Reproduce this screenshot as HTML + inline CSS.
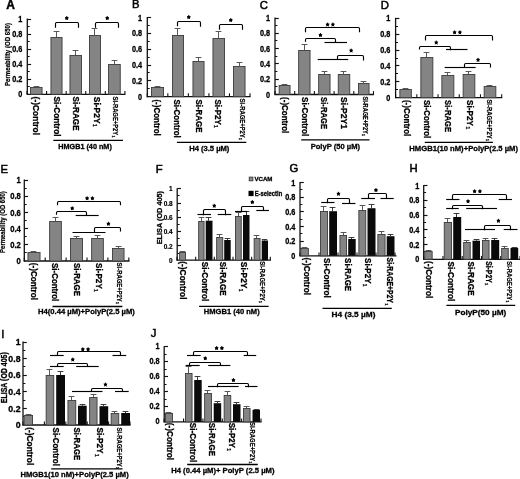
<!DOCTYPE html>
<html><head><meta charset="utf-8"><title>Figure</title>
<style>html,body{margin:0;padding:0;background:#fff;}body{width:520px;height:479px;overflow:hidden;}svg{display:block;filter:blur(0.35px);}text{font-family:"Liberation Sans",sans-serif;}</style></head><body>
<svg width="520" height="479" viewBox="0 0 520 479">
<rect width="520" height="479" fill="#fff"/>
<g>
<line x1="27.3" y1="18.5" x2="27.3" y2="94.8" stroke="#111" stroke-width="1.3" stroke-linecap="butt"/>
<line x1="26.8" y1="94.3" x2="125.4" y2="94.3" stroke="#111" stroke-width="1.3" stroke-linecap="butt"/>
<line x1="27.3" y1="86.5" x2="29.7" y2="86.5" stroke="#111" stroke-width="1" stroke-linecap="butt"/>
<line x1="27.3" y1="79.5" x2="31.1" y2="79.5" stroke="#111" stroke-width="1.15" stroke-linecap="butt"/>
<line x1="27.3" y1="71.5" x2="29.7" y2="71.5" stroke="#111" stroke-width="1" stroke-linecap="butt"/>
<line x1="27.3" y1="64.5" x2="31.1" y2="64.5" stroke="#111" stroke-width="1.15" stroke-linecap="butt"/>
<line x1="27.3" y1="56.5" x2="29.7" y2="56.5" stroke="#111" stroke-width="1" stroke-linecap="butt"/>
<line x1="27.3" y1="49.5" x2="31.1" y2="49.5" stroke="#111" stroke-width="1.15" stroke-linecap="butt"/>
<line x1="27.3" y1="41.5" x2="29.7" y2="41.5" stroke="#111" stroke-width="1" stroke-linecap="butt"/>
<line x1="27.3" y1="34.5" x2="31.1" y2="34.5" stroke="#111" stroke-width="1.15" stroke-linecap="butt"/>
<line x1="27.3" y1="26.5" x2="29.7" y2="26.5" stroke="#111" stroke-width="1" stroke-linecap="butt"/>
<line x1="27.3" y1="19.5" x2="31.1" y2="19.5" stroke="#111" stroke-width="1.15" stroke-linecap="butt"/>
<line x1="27" y1="94.3" x2="27" y2="90.9" stroke="#111" stroke-width="1.1" stroke-linecap="butt"/>
<line x1="46.58" y1="94.3" x2="46.58" y2="90.9" stroke="#111" stroke-width="1.1" stroke-linecap="butt"/>
<line x1="66.16" y1="94.3" x2="66.16" y2="90.9" stroke="#111" stroke-width="1.1" stroke-linecap="butt"/>
<line x1="85.74" y1="94.3" x2="85.74" y2="90.9" stroke="#111" stroke-width="1.1" stroke-linecap="butt"/>
<line x1="105.32" y1="94.3" x2="105.32" y2="90.9" stroke="#111" stroke-width="1.1" stroke-linecap="butt"/>
<line x1="124.9" y1="94.3" x2="124.9" y2="90.9" stroke="#111" stroke-width="1.1" stroke-linecap="butt"/>
<text font-size="8.4" font-weight="700" stroke="#000" stroke-width="0.3" text-anchor="end" textLength="4.06" lengthAdjust="spacingAndGlyphs" x="22.3" y="97.32" fill="#000">0</text>
<text font-size="8.4" font-weight="700" stroke="#000" stroke-width="0.3" text-anchor="end" textLength="10.16" lengthAdjust="spacingAndGlyphs" x="22.3" y="82.26" fill="#000">0.2</text>
<text font-size="8.4" font-weight="700" stroke="#000" stroke-width="0.3" text-anchor="end" textLength="10.16" lengthAdjust="spacingAndGlyphs" x="22.3" y="67.2" fill="#000">0.4</text>
<text font-size="8.4" font-weight="700" stroke="#000" stroke-width="0.3" text-anchor="end" textLength="10.16" lengthAdjust="spacingAndGlyphs" x="22.3" y="52.14" fill="#000">0.6</text>
<text font-size="8.4" font-weight="700" stroke="#000" stroke-width="0.3" text-anchor="end" textLength="10.16" lengthAdjust="spacingAndGlyphs" x="22.3" y="37.08" fill="#000">0.8</text>
<text font-size="8.4" font-weight="700" stroke="#000" stroke-width="0.3" text-anchor="end" textLength="4.06" lengthAdjust="spacingAndGlyphs" x="22.3" y="22.02" fill="#000">1</text>
<line x1="36.5" y1="86.5" x2="36.5" y2="87" stroke="#505050" stroke-width="0.95" stroke-linecap="butt"/>
<line x1="33.6" y1="86.5" x2="39.4" y2="86.5" stroke="#505050" stroke-width="0.95" stroke-linecap="butt"/>
<rect x="30.45" y="87.5" width="11.6" height="6.8" fill="#848484" stroke="#3c3c3c" stroke-width="0.9"/>
<line x1="56.5" y1="31.5" x2="56.5" y2="37.5" stroke="#505050" stroke-width="0.95" stroke-linecap="butt"/>
<line x1="53.6" y1="31.5" x2="59.4" y2="31.5" stroke="#505050" stroke-width="0.95" stroke-linecap="butt"/>
<rect x="50.95" y="37.5" width="11.1" height="56.8" fill="#848484" stroke="#3c3c3c" stroke-width="0.9"/>
<line x1="75.5" y1="50.5" x2="75.5" y2="55.5" stroke="#505050" stroke-width="0.95" stroke-linecap="butt"/>
<line x1="72.6" y1="50.5" x2="78.4" y2="50.5" stroke="#505050" stroke-width="0.95" stroke-linecap="butt"/>
<rect x="69.95" y="55.5" width="11.6" height="38.8" fill="#848484" stroke="#3c3c3c" stroke-width="0.9"/>
<line x1="94.5" y1="28.5" x2="94.5" y2="35" stroke="#505050" stroke-width="0.95" stroke-linecap="butt"/>
<line x1="91.6" y1="28.5" x2="97.4" y2="28.5" stroke="#505050" stroke-width="0.95" stroke-linecap="butt"/>
<rect x="89.45" y="35.5" width="11.1" height="58.8" fill="#848484" stroke="#3c3c3c" stroke-width="0.9"/>
<line x1="114.5" y1="60.5" x2="114.5" y2="64.5" stroke="#505050" stroke-width="0.95" stroke-linecap="butt"/>
<line x1="111.6" y1="60.5" x2="117.4" y2="60.5" stroke="#505050" stroke-width="0.95" stroke-linecap="butt"/>
<rect x="108.55" y="64.5" width="11.7" height="29.8" fill="#848484" stroke="#3c3c3c" stroke-width="0.9"/>
<path d="M55.5 27.7 V23.7 Q55.5 22.5 56.7 22.5 H77.3 Q78.5 22.5 78.5 23.7 V27.7" fill="none" stroke="#000" stroke-width="1.15"/>
<circle cx="66.75" cy="18.2" r="1.4" fill="#000"/>
<path d="M66.75 18.2L66.75 16.5M66.75 18.2L68.13 17.67M66.75 18.2L67.6 19.58M66.75 18.2L65.9 19.58M66.75 18.2L65.37 17.67" stroke="#000" stroke-width="0.95" fill="none" stroke-linecap="round"/>
<path d="M95.5 27.7 V23.7 Q95.5 22.5 96.7 22.5 H117.3 Q118.5 22.5 118.5 23.7 V27.7" fill="none" stroke="#000" stroke-width="1.15"/>
<circle cx="107.25" cy="18.2" r="1.4" fill="#000"/>
<path d="M107.25 18.2L107.25 16.5M107.25 18.2L108.63 17.67M107.25 18.2L108.1 19.58M107.25 18.2L106.4 19.58M107.25 18.2L105.87 17.67" stroke="#000" stroke-width="0.95" fill="none" stroke-linecap="round"/>
<text font-size="9.84" font-weight="700" stroke="#000" stroke-width="0.3" textLength="38.4" lengthAdjust="spacingAndGlyphs" transform="translate(33.46 96.6) rotate(90)" fill="#000">(-)Control</text>
<text font-size="9.84" font-weight="700" stroke="#000" stroke-width="0.3" textLength="40" lengthAdjust="spacingAndGlyphs" transform="translate(53.86 96.6) rotate(90)" fill="#000">Si-Control</text>
<text font-size="9.84" font-weight="700" stroke="#000" stroke-width="0.3" textLength="34" lengthAdjust="spacingAndGlyphs" transform="translate(73.16 96.6) rotate(90)" fill="#000">Si-RAGE</text>
<text font-size="9.84" font-weight="700" stroke="#000" stroke-width="0.3" textLength="26.8" lengthAdjust="spacingAndGlyphs" transform="translate(94.26 96.8) rotate(90)" fill="#000">Si-P2Y</text>
<text font-size="4.92" font-weight="700" stroke="#000" stroke-width="0.22" transform="translate(92.58 123.9) rotate(90)" fill="#000">1</text>
<text font-size="7.25" font-weight="700" stroke="#000" stroke-width="0.22" textLength="38.7" lengthAdjust="spacingAndGlyphs" transform="translate(113.49 96.5) rotate(90)" fill="#000">Si-RAGE+P2Y</text>
<text font-size="3.62" font-weight="700" stroke="#000" stroke-width="0.22" transform="translate(112.26 135.5) rotate(90)" fill="#000">1</text>
<line x1="53.3" y1="140.4" x2="123" y2="140.4" stroke="#000" stroke-width="1.35" stroke-linecap="butt"/>
<text font-size="7.5" font-weight="700" stroke="#000" stroke-width="0.3" textLength="53.5" lengthAdjust="spacingAndGlyphs" x="58.3" y="149.2" fill="#000">HMGB1 (40 nM)</text>
<text font-size="7.2" font-weight="700" stroke="#000" stroke-width="0.22" textLength="63" lengthAdjust="spacingAndGlyphs" transform="translate(9.99 86) rotate(-90)" fill="#000">Permeability (OD 650)</text>
<text font-size="12" stroke="#000" stroke-width="0.45" font-weight="700" x="6.2" y="8.8" fill="#000">A</text>
</g>
<g>
<line x1="147.3" y1="17" x2="147.3" y2="97.2" stroke="#111" stroke-width="1.3" stroke-linecap="butt"/>
<line x1="146.8" y1="96.7" x2="250.5" y2="96.7" stroke="#111" stroke-width="1.3" stroke-linecap="butt"/>
<line x1="147.3" y1="88.5" x2="149.7" y2="88.5" stroke="#111" stroke-width="1" stroke-linecap="butt"/>
<line x1="147.3" y1="80.5" x2="151.1" y2="80.5" stroke="#111" stroke-width="1.15" stroke-linecap="butt"/>
<line x1="147.3" y1="72.5" x2="149.7" y2="72.5" stroke="#111" stroke-width="1" stroke-linecap="butt"/>
<line x1="147.3" y1="65.5" x2="151.1" y2="65.5" stroke="#111" stroke-width="1.15" stroke-linecap="butt"/>
<line x1="147.3" y1="57.5" x2="149.7" y2="57.5" stroke="#111" stroke-width="1" stroke-linecap="butt"/>
<line x1="147.3" y1="49.5" x2="151.1" y2="49.5" stroke="#111" stroke-width="1.15" stroke-linecap="butt"/>
<line x1="147.3" y1="41.5" x2="149.7" y2="41.5" stroke="#111" stroke-width="1" stroke-linecap="butt"/>
<line x1="147.3" y1="33.5" x2="151.1" y2="33.5" stroke="#111" stroke-width="1.15" stroke-linecap="butt"/>
<line x1="147.3" y1="25.5" x2="149.7" y2="25.5" stroke="#111" stroke-width="1" stroke-linecap="butt"/>
<line x1="147.3" y1="17.5" x2="151.1" y2="17.5" stroke="#111" stroke-width="1.15" stroke-linecap="butt"/>
<line x1="147.3" y1="96.7" x2="147.3" y2="93.3" stroke="#111" stroke-width="1.1" stroke-linecap="butt"/>
<line x1="167.84" y1="96.7" x2="167.84" y2="93.3" stroke="#111" stroke-width="1.1" stroke-linecap="butt"/>
<line x1="188.38" y1="96.7" x2="188.38" y2="93.3" stroke="#111" stroke-width="1.1" stroke-linecap="butt"/>
<line x1="208.92" y1="96.7" x2="208.92" y2="93.3" stroke="#111" stroke-width="1.1" stroke-linecap="butt"/>
<line x1="229.46" y1="96.7" x2="229.46" y2="93.3" stroke="#111" stroke-width="1.1" stroke-linecap="butt"/>
<line x1="250" y1="96.7" x2="250" y2="93.3" stroke="#111" stroke-width="1.1" stroke-linecap="butt"/>
<text font-size="8.4" font-weight="700" stroke="#000" stroke-width="0.3" text-anchor="end" textLength="4.06" lengthAdjust="spacingAndGlyphs" x="142.1" y="99.72" fill="#000">0</text>
<text font-size="8.4" font-weight="700" stroke="#000" stroke-width="0.3" text-anchor="end" textLength="10.16" lengthAdjust="spacingAndGlyphs" x="142.1" y="83.88" fill="#000">0.2</text>
<text font-size="8.4" font-weight="700" stroke="#000" stroke-width="0.3" text-anchor="end" textLength="10.16" lengthAdjust="spacingAndGlyphs" x="142.1" y="68.04" fill="#000">0.4</text>
<text font-size="8.4" font-weight="700" stroke="#000" stroke-width="0.3" text-anchor="end" textLength="10.16" lengthAdjust="spacingAndGlyphs" x="142.1" y="52.2" fill="#000">0.6</text>
<text font-size="8.4" font-weight="700" stroke="#000" stroke-width="0.3" text-anchor="end" textLength="10.16" lengthAdjust="spacingAndGlyphs" x="142.1" y="36.36" fill="#000">0.8</text>
<text font-size="8.4" font-weight="700" stroke="#000" stroke-width="0.3" text-anchor="end" textLength="4.06" lengthAdjust="spacingAndGlyphs" x="142.1" y="20.52" fill="#000">1</text>
<line x1="157.5" y1="86.5" x2="157.5" y2="87.5" stroke="#505050" stroke-width="0.95" stroke-linecap="butt"/>
<line x1="154.6" y1="86.5" x2="160.4" y2="86.5" stroke="#505050" stroke-width="0.95" stroke-linecap="butt"/>
<rect x="151.45" y="87.5" width="12.1" height="9.2" fill="#848484" stroke="#3c3c3c" stroke-width="0.9"/>
<line x1="177.5" y1="28.5" x2="177.5" y2="35.5" stroke="#505050" stroke-width="0.95" stroke-linecap="butt"/>
<line x1="174.6" y1="28.5" x2="180.4" y2="28.5" stroke="#505050" stroke-width="0.95" stroke-linecap="butt"/>
<rect x="172.45" y="35.5" width="11.1" height="61.2" fill="#848484" stroke="#3c3c3c" stroke-width="0.9"/>
<line x1="198.5" y1="57.5" x2="198.5" y2="61" stroke="#505050" stroke-width="0.95" stroke-linecap="butt"/>
<line x1="195.6" y1="57.5" x2="201.4" y2="57.5" stroke="#505050" stroke-width="0.95" stroke-linecap="butt"/>
<rect x="192.95" y="61.5" width="11.1" height="35.2" fill="#848484" stroke="#3c3c3c" stroke-width="0.9"/>
<line x1="218.5" y1="31.5" x2="218.5" y2="38" stroke="#505050" stroke-width="0.95" stroke-linecap="butt"/>
<line x1="215.6" y1="31.5" x2="221.4" y2="31.5" stroke="#505050" stroke-width="0.95" stroke-linecap="butt"/>
<rect x="212.95" y="38.5" width="11.6" height="58.2" fill="#848484" stroke="#3c3c3c" stroke-width="0.9"/>
<line x1="239.5" y1="62.5" x2="239.5" y2="66" stroke="#505050" stroke-width="0.95" stroke-linecap="butt"/>
<line x1="236.6" y1="62.5" x2="242.4" y2="62.5" stroke="#505050" stroke-width="0.95" stroke-linecap="butt"/>
<rect x="233.45" y="66.5" width="11.6" height="30.2" fill="#848484" stroke="#3c3c3c" stroke-width="0.9"/>
<path d="M177.5 26.2 V22.7 Q177.5 21.5 178.7 21.5 H199.3 Q200.5 21.5 200.5 22.7 V26.7" fill="none" stroke="#000" stroke-width="1.15"/>
<circle cx="188.75" cy="17.2" r="1.4" fill="#000"/>
<path d="M188.75 17.2L188.75 15.5M188.75 17.2L190.13 16.67M188.75 17.2L189.6 18.58M188.75 17.2L187.9 18.58M188.75 17.2L187.37 16.67" stroke="#000" stroke-width="0.95" fill="none" stroke-linecap="round"/>
<path d="M219.5 29.7 V25.7 Q219.5 24.5 220.7 24.5 H241.3 Q242.5 24.5 242.5 25.7 V29.7" fill="none" stroke="#000" stroke-width="1.15"/>
<circle cx="230.75" cy="20.2" r="1.4" fill="#000"/>
<path d="M230.75 20.2L230.75 18.5M230.75 20.2L232.13 19.67M230.75 20.2L231.6 21.58M230.75 20.2L229.9 21.58M230.75 20.2L229.37 19.67" stroke="#000" stroke-width="0.95" fill="none" stroke-linecap="round"/>
<text font-size="9.84" font-weight="700" stroke="#000" stroke-width="0.3" textLength="36.4" lengthAdjust="spacingAndGlyphs" transform="translate(154.36 99.4) rotate(90)" fill="#000">(-)Control</text>
<text font-size="9.84" font-weight="700" stroke="#000" stroke-width="0.3" textLength="38.4" lengthAdjust="spacingAndGlyphs" transform="translate(174.36 99.4) rotate(90)" fill="#000">Si-Control</text>
<text font-size="9.84" font-weight="700" stroke="#000" stroke-width="0.3" textLength="33.1" lengthAdjust="spacingAndGlyphs" transform="translate(196.46 99.4) rotate(90)" fill="#000">Si-RAGE</text>
<text font-size="9.84" font-weight="700" stroke="#000" stroke-width="0.3" textLength="25.4" lengthAdjust="spacingAndGlyphs" transform="translate(215.36 99.4) rotate(90)" fill="#000">Si-P2Y</text>
<text font-size="4.92" font-weight="700" stroke="#000" stroke-width="0.22" transform="translate(213.68 125.1) rotate(90)" fill="#000">1</text>
<text font-size="7" font-weight="700" stroke="#000" stroke-width="0.22" textLength="39.2" lengthAdjust="spacingAndGlyphs" transform="translate(240.38 98.6) rotate(90)" fill="#000">Si-RAGE+P2Y</text>
<text font-size="3.5" font-weight="700" stroke="#000" stroke-width="0.22" transform="translate(239.19 138.1) rotate(90)" fill="#000">1</text>
<line x1="176.9" y1="142.4" x2="246.3" y2="142.4" stroke="#000" stroke-width="1.35" stroke-linecap="butt"/>
<text font-size="7.5" font-weight="700" stroke="#000" stroke-width="0.3" textLength="40.2" lengthAdjust="spacingAndGlyphs" x="189.2" y="151.1" fill="#000">H4 (3.5 µM)</text>
<text font-size="11.3" stroke="#000" stroke-width="0.5" x="132" y="8.2" fill="#000">B</text>
</g>
<g>
<line x1="275" y1="17.5" x2="275" y2="95" stroke="#111" stroke-width="1.3" stroke-linecap="butt"/>
<line x1="274.5" y1="94.5" x2="374" y2="94.5" stroke="#111" stroke-width="1.3" stroke-linecap="butt"/>
<line x1="275" y1="86.5" x2="277.4" y2="86.5" stroke="#111" stroke-width="1" stroke-linecap="butt"/>
<line x1="275" y1="79.5" x2="278.8" y2="79.5" stroke="#111" stroke-width="1.15" stroke-linecap="butt"/>
<line x1="275" y1="71.5" x2="277.4" y2="71.5" stroke="#111" stroke-width="1" stroke-linecap="butt"/>
<line x1="275" y1="63.5" x2="278.8" y2="63.5" stroke="#111" stroke-width="1.15" stroke-linecap="butt"/>
<line x1="275" y1="56.5" x2="277.4" y2="56.5" stroke="#111" stroke-width="1" stroke-linecap="butt"/>
<line x1="275" y1="48.5" x2="278.8" y2="48.5" stroke="#111" stroke-width="1.15" stroke-linecap="butt"/>
<line x1="275" y1="40.5" x2="277.4" y2="40.5" stroke="#111" stroke-width="1" stroke-linecap="butt"/>
<line x1="275" y1="33.5" x2="278.8" y2="33.5" stroke="#111" stroke-width="1.15" stroke-linecap="butt"/>
<line x1="275" y1="25.5" x2="277.4" y2="25.5" stroke="#111" stroke-width="1" stroke-linecap="butt"/>
<line x1="275" y1="18.5" x2="278.8" y2="18.5" stroke="#111" stroke-width="1.15" stroke-linecap="butt"/>
<line x1="275" y1="94.5" x2="275" y2="91.1" stroke="#111" stroke-width="1.1" stroke-linecap="butt"/>
<line x1="294.7" y1="94.5" x2="294.7" y2="91.1" stroke="#111" stroke-width="1.1" stroke-linecap="butt"/>
<line x1="314.4" y1="94.5" x2="314.4" y2="91.1" stroke="#111" stroke-width="1.1" stroke-linecap="butt"/>
<line x1="334.1" y1="94.5" x2="334.1" y2="91.1" stroke="#111" stroke-width="1.1" stroke-linecap="butt"/>
<line x1="353.8" y1="94.5" x2="353.8" y2="91.1" stroke="#111" stroke-width="1.1" stroke-linecap="butt"/>
<line x1="373.5" y1="94.5" x2="373.5" y2="91.1" stroke="#111" stroke-width="1.1" stroke-linecap="butt"/>
<text font-size="8.4" font-weight="700" stroke="#000" stroke-width="0.3" text-anchor="end" textLength="4.06" lengthAdjust="spacingAndGlyphs" x="270.1" y="97.52" fill="#000">0</text>
<text font-size="8.4" font-weight="700" stroke="#000" stroke-width="0.3" text-anchor="end" textLength="10.16" lengthAdjust="spacingAndGlyphs" x="270.1" y="82.22" fill="#000">0.2</text>
<text font-size="8.4" font-weight="700" stroke="#000" stroke-width="0.3" text-anchor="end" textLength="10.16" lengthAdjust="spacingAndGlyphs" x="270.1" y="66.92" fill="#000">0.4</text>
<text font-size="8.4" font-weight="700" stroke="#000" stroke-width="0.3" text-anchor="end" textLength="10.16" lengthAdjust="spacingAndGlyphs" x="270.1" y="51.62" fill="#000">0.6</text>
<text font-size="8.4" font-weight="700" stroke="#000" stroke-width="0.3" text-anchor="end" textLength="10.16" lengthAdjust="spacingAndGlyphs" x="270.1" y="36.32" fill="#000">0.8</text>
<text font-size="8.4" font-weight="700" stroke="#000" stroke-width="0.3" text-anchor="end" textLength="4.06" lengthAdjust="spacingAndGlyphs" x="270.1" y="21.02" fill="#000">1</text>
<line x1="284.5" y1="84.5" x2="284.5" y2="85.5" stroke="#505050" stroke-width="0.95" stroke-linecap="butt"/>
<line x1="281.6" y1="84.5" x2="287.4" y2="84.5" stroke="#505050" stroke-width="0.95" stroke-linecap="butt"/>
<rect x="279.15" y="85.5" width="10.9" height="9" fill="#848484" stroke="#3c3c3c" stroke-width="0.9"/>
<line x1="304.5" y1="44.5" x2="304.5" y2="50" stroke="#505050" stroke-width="0.95" stroke-linecap="butt"/>
<line x1="301.6" y1="44.5" x2="307.4" y2="44.5" stroke="#505050" stroke-width="0.95" stroke-linecap="butt"/>
<rect x="298.65" y="50.5" width="11.4" height="44" fill="#848484" stroke="#3c3c3c" stroke-width="0.9"/>
<line x1="324.5" y1="71.5" x2="324.5" y2="74.5" stroke="#505050" stroke-width="0.95" stroke-linecap="butt"/>
<line x1="321.6" y1="71.5" x2="327.4" y2="71.5" stroke="#505050" stroke-width="0.95" stroke-linecap="butt"/>
<rect x="318.65" y="74.5" width="11.4" height="20" fill="#848484" stroke="#3c3c3c" stroke-width="0.9"/>
<line x1="343.5" y1="71.5" x2="343.5" y2="74" stroke="#505050" stroke-width="0.95" stroke-linecap="butt"/>
<line x1="340.6" y1="71.5" x2="346.4" y2="71.5" stroke="#505050" stroke-width="0.95" stroke-linecap="butt"/>
<rect x="338.25" y="74.5" width="11.5" height="20" fill="#848484" stroke="#3c3c3c" stroke-width="0.9"/>
<line x1="363.5" y1="81.5" x2="363.5" y2="83" stroke="#505050" stroke-width="0.95" stroke-linecap="butt"/>
<line x1="360.6" y1="81.5" x2="366.4" y2="81.5" stroke="#505050" stroke-width="0.95" stroke-linecap="butt"/>
<rect x="358.45" y="83.5" width="10.6" height="11" fill="#848484" stroke="#3c3c3c" stroke-width="0.9"/>
<path d="M305.5 32.2 V28.7 Q305.5 27.5 306.7 27.5 H358.3 Q359.5 27.5 359.5 28.7 V32.2" fill="none" stroke="#000" stroke-width="1.15"/>
<circle cx="327.6" cy="24.7" r="1.4" fill="#000"/>
<path d="M327.6 24.7L327.6 23M327.6 24.7L328.98 24.17M327.6 24.7L328.45 26.08M327.6 24.7L326.75 26.08M327.6 24.7L326.22 24.17" stroke="#000" stroke-width="0.95" fill="none" stroke-linecap="round"/>
<circle cx="332.9" cy="24.7" r="1.4" fill="#000"/>
<path d="M332.9 24.7L332.9 23M332.9 24.7L334.28 24.17M332.9 24.7L333.75 26.08M332.9 24.7L332.05 26.08M332.9 24.7L331.52 24.17" stroke="#000" stroke-width="0.95" fill="none" stroke-linecap="round"/>
<path d="M305.5 41.7 V39.7 Q305.5 38.5 306.7 38.5 H334.3 Q335.5 38.5 335.5 39.7 V42.7" fill="none" stroke="#000" stroke-width="1.15"/>
<line x1="324.5" y1="42.5" x2="347" y2="42.5" stroke="#000" stroke-width="1.15" stroke-linecap="butt"/>
<circle cx="320.45" cy="35.2" r="1.4" fill="#000"/>
<path d="M320.45 35.2L320.45 33.5M320.45 35.2L321.83 34.67M320.45 35.2L321.3 36.58M320.45 35.2L319.6 36.58M320.45 35.2L319.07 34.67" stroke="#000" stroke-width="0.95" fill="none" stroke-linecap="round"/>
<path d="M337.5 59.5 V56.7 Q337.5 55.5 338.7 55.5 H362.3 Q363.5 55.5 363.5 56.7 V60.4" fill="none" stroke="#000" stroke-width="1.15"/>
<line x1="317.7" y1="59.5" x2="348.2" y2="59.5" stroke="#000" stroke-width="1.15" stroke-linecap="butt"/>
<circle cx="351.15" cy="50.7" r="1.4" fill="#000"/>
<path d="M351.15 50.7L351.15 49M351.15 50.7L352.53 50.17M351.15 50.7L352 52.08M351.15 50.7L350.3 52.08M351.15 50.7L349.77 50.17" stroke="#000" stroke-width="0.95" fill="none" stroke-linecap="round"/>
<text font-size="9.84" font-weight="700" stroke="#000" stroke-width="0.3" textLength="36.2" lengthAdjust="spacingAndGlyphs" transform="translate(281.86 97.1) rotate(90)" fill="#000">(-)Control</text>
<text font-size="9.84" font-weight="700" stroke="#000" stroke-width="0.3" textLength="39.2" lengthAdjust="spacingAndGlyphs" transform="translate(301.86 97.1) rotate(90)" fill="#000">Si-Control</text>
<text font-size="9.84" font-weight="700" stroke="#000" stroke-width="0.3" textLength="32" lengthAdjust="spacingAndGlyphs" transform="translate(321.36 97.1) rotate(90)" fill="#000">Si-RAGE</text>
<text font-size="9.84" font-weight="700" stroke="#000" stroke-width="0.3" textLength="32" lengthAdjust="spacingAndGlyphs" transform="translate(341.36 97.1) rotate(90)" fill="#000">Si-P2Y1</text>
<text font-size="6.88" font-weight="700" stroke="#000" stroke-width="0.22" textLength="37.4" lengthAdjust="spacingAndGlyphs" transform="translate(362.92 96.4) rotate(90)" fill="#000">Si-RAGE+P2Y</text>
<text font-size="3.44" font-weight="700" stroke="#000" stroke-width="0.22" transform="translate(361.76 134.1) rotate(90)" fill="#000">1</text>
<line x1="301.2" y1="139.9" x2="369.5" y2="139.9" stroke="#000" stroke-width="1.35" stroke-linecap="butt"/>
<text font-size="7.8" font-weight="700" stroke="#000" stroke-width="0.3" textLength="49.3" lengthAdjust="spacingAndGlyphs" x="310.7" y="148.91" fill="#000">PolyP (50 µM)</text>
<text font-size="11.3" stroke="#000" stroke-width="0.5" x="259.8" y="8.8" fill="#000">C</text>
</g>
<g>
<line x1="395.6" y1="17.8" x2="395.6" y2="98.2" stroke="#111" stroke-width="1.3" stroke-linecap="butt"/>
<line x1="395.1" y1="97.7" x2="502.2" y2="97.7" stroke="#111" stroke-width="1.3" stroke-linecap="butt"/>
<line x1="395.6" y1="89.5" x2="398" y2="89.5" stroke="#111" stroke-width="1" stroke-linecap="butt"/>
<line x1="395.6" y1="81.5" x2="399.4" y2="81.5" stroke="#111" stroke-width="1.15" stroke-linecap="butt"/>
<line x1="395.6" y1="73.5" x2="398" y2="73.5" stroke="#111" stroke-width="1" stroke-linecap="butt"/>
<line x1="395.6" y1="65.5" x2="399.4" y2="65.5" stroke="#111" stroke-width="1.15" stroke-linecap="butt"/>
<line x1="395.6" y1="58.5" x2="398" y2="58.5" stroke="#111" stroke-width="1" stroke-linecap="butt"/>
<line x1="395.6" y1="50.5" x2="399.4" y2="50.5" stroke="#111" stroke-width="1.15" stroke-linecap="butt"/>
<line x1="395.6" y1="42.5" x2="398" y2="42.5" stroke="#111" stroke-width="1" stroke-linecap="butt"/>
<line x1="395.6" y1="34.5" x2="399.4" y2="34.5" stroke="#111" stroke-width="1.15" stroke-linecap="butt"/>
<line x1="395.6" y1="26.5" x2="398" y2="26.5" stroke="#111" stroke-width="1" stroke-linecap="butt"/>
<line x1="395.6" y1="18.5" x2="399.4" y2="18.5" stroke="#111" stroke-width="1.15" stroke-linecap="butt"/>
<line x1="395.6" y1="97.7" x2="395.6" y2="94.3" stroke="#111" stroke-width="1.1" stroke-linecap="butt"/>
<line x1="416.82" y1="97.7" x2="416.82" y2="94.3" stroke="#111" stroke-width="1.1" stroke-linecap="butt"/>
<line x1="438.04" y1="97.7" x2="438.04" y2="94.3" stroke="#111" stroke-width="1.1" stroke-linecap="butt"/>
<line x1="459.26" y1="97.7" x2="459.26" y2="94.3" stroke="#111" stroke-width="1.1" stroke-linecap="butt"/>
<line x1="480.48" y1="97.7" x2="480.48" y2="94.3" stroke="#111" stroke-width="1.1" stroke-linecap="butt"/>
<line x1="501.7" y1="97.7" x2="501.7" y2="94.3" stroke="#111" stroke-width="1.1" stroke-linecap="butt"/>
<text font-size="8.4" font-weight="700" stroke="#000" stroke-width="0.3" text-anchor="end" textLength="4.06" lengthAdjust="spacingAndGlyphs" x="390.4" y="100.72" fill="#000">0</text>
<text font-size="8.4" font-weight="700" stroke="#000" stroke-width="0.3" text-anchor="end" textLength="10.16" lengthAdjust="spacingAndGlyphs" x="390.4" y="84.84" fill="#000">0.2</text>
<text font-size="8.4" font-weight="700" stroke="#000" stroke-width="0.3" text-anchor="end" textLength="10.16" lengthAdjust="spacingAndGlyphs" x="390.4" y="68.96" fill="#000">0.4</text>
<text font-size="8.4" font-weight="700" stroke="#000" stroke-width="0.3" text-anchor="end" textLength="10.16" lengthAdjust="spacingAndGlyphs" x="390.4" y="53.08" fill="#000">0.6</text>
<text font-size="8.4" font-weight="700" stroke="#000" stroke-width="0.3" text-anchor="end" textLength="10.16" lengthAdjust="spacingAndGlyphs" x="390.4" y="37.2" fill="#000">0.8</text>
<text font-size="8.4" font-weight="700" stroke="#000" stroke-width="0.3" text-anchor="end" textLength="4.06" lengthAdjust="spacingAndGlyphs" x="390.4" y="21.32" fill="#000">1</text>
<line x1="405.5" y1="88.5" x2="405.5" y2="88.9" stroke="#505050" stroke-width="0.95" stroke-linecap="butt"/>
<line x1="402.6" y1="88.5" x2="408.4" y2="88.5" stroke="#505050" stroke-width="0.95" stroke-linecap="butt"/>
<rect x="399.85" y="89.5" width="11.5" height="8.2" fill="#848484" stroke="#3c3c3c" stroke-width="0.9"/>
<line x1="426.5" y1="52.5" x2="426.5" y2="57.4" stroke="#505050" stroke-width="0.95" stroke-linecap="butt"/>
<line x1="423.6" y1="52.5" x2="429.4" y2="52.5" stroke="#505050" stroke-width="0.95" stroke-linecap="butt"/>
<rect x="420.85" y="57.5" width="12" height="40.2" fill="#848484" stroke="#3c3c3c" stroke-width="0.9"/>
<line x1="447.5" y1="72.5" x2="447.5" y2="75.4" stroke="#505050" stroke-width="0.95" stroke-linecap="butt"/>
<line x1="444.6" y1="72.5" x2="450.4" y2="72.5" stroke="#505050" stroke-width="0.95" stroke-linecap="butt"/>
<rect x="441.85" y="75.5" width="12" height="22.2" fill="#848484" stroke="#3c3c3c" stroke-width="0.9"/>
<line x1="468.5" y1="71.5" x2="468.5" y2="74.3" stroke="#505050" stroke-width="0.95" stroke-linecap="butt"/>
<line x1="465.6" y1="71.5" x2="471.4" y2="71.5" stroke="#505050" stroke-width="0.95" stroke-linecap="butt"/>
<rect x="463.15" y="74.5" width="11.7" height="23.2" fill="#848484" stroke="#3c3c3c" stroke-width="0.9"/>
<line x1="489.5" y1="85.5" x2="489.5" y2="86.7" stroke="#505050" stroke-width="0.95" stroke-linecap="butt"/>
<line x1="486.6" y1="85.5" x2="492.4" y2="85.5" stroke="#505050" stroke-width="0.95" stroke-linecap="butt"/>
<rect x="484.15" y="86.5" width="11.7" height="11.2" fill="#848484" stroke="#3c3c3c" stroke-width="0.9"/>
<path d="M425.5 40.6 V36.7 Q425.5 35.5 426.7 35.5 H491.3 Q492.5 35.5 492.5 36.7 V40.6" fill="none" stroke="#000" stroke-width="1.15"/>
<circle cx="454.6" cy="32.5" r="1.4" fill="#000"/>
<path d="M454.6 32.5L454.6 30.8M454.6 32.5L455.98 31.97M454.6 32.5L455.45 33.88M454.6 32.5L453.75 33.88M454.6 32.5L453.22 31.97" stroke="#000" stroke-width="0.95" fill="none" stroke-linecap="round"/>
<circle cx="459.9" cy="32.5" r="1.4" fill="#000"/>
<path d="M459.9 32.5L459.9 30.8M459.9 32.5L461.28 31.97M459.9 32.5L460.75 33.88M459.9 32.5L459.05 33.88M459.9 32.5L458.52 31.97" stroke="#000" stroke-width="0.95" fill="none" stroke-linecap="round"/>
<path d="M419.5 49.5 V47.7 Q419.5 46.5 420.7 46.5 H449.3 Q450.5 46.5 450.5 47.7 V50.2" fill="none" stroke="#000" stroke-width="1.15"/>
<line x1="446" y1="49.5" x2="467.5" y2="49.5" stroke="#000" stroke-width="1.15" stroke-linecap="butt"/>
<circle cx="436.25" cy="42.7" r="1.4" fill="#000"/>
<path d="M436.25 42.7L436.25 41M436.25 42.7L437.63 42.17M436.25 42.7L437.1 44.08M436.25 42.7L435.4 44.08M436.25 42.7L434.87 42.17" stroke="#000" stroke-width="0.95" fill="none" stroke-linecap="round"/>
<path d="M464.5 67.7 V64.7 Q464.5 63.5 465.7 63.5 H489.3 Q490.5 63.5 490.5 64.7 V67.5" fill="none" stroke="#000" stroke-width="1.15"/>
<line x1="444.6" y1="67.5" x2="475.6" y2="67.5" stroke="#000" stroke-width="1.15" stroke-linecap="butt"/>
<circle cx="478.05" cy="60" r="1.4" fill="#000"/>
<path d="M478.05 60L478.05 58.3M478.05 60L479.43 59.47M478.05 60L478.9 61.38M478.05 60L477.2 61.38M478.05 60L476.67 59.47" stroke="#000" stroke-width="0.95" fill="none" stroke-linecap="round"/>
<text font-size="9.84" font-weight="700" stroke="#000" stroke-width="0.3" textLength="36.4" lengthAdjust="spacingAndGlyphs" transform="translate(404.16 99.9) rotate(90)" fill="#000">(-)Control</text>
<text font-size="9.84" font-weight="700" stroke="#000" stroke-width="0.3" textLength="38.2" lengthAdjust="spacingAndGlyphs" transform="translate(424.36 100.1) rotate(90)" fill="#000">Si-Control</text>
<text font-size="9.84" font-weight="700" stroke="#000" stroke-width="0.3" textLength="32" lengthAdjust="spacingAndGlyphs" transform="translate(444.86 100.1) rotate(90)" fill="#000">Si-RAGE</text>
<text font-size="9.84" font-weight="700" stroke="#000" stroke-width="0.3" textLength="26" lengthAdjust="spacingAndGlyphs" transform="translate(467.36 100.1) rotate(90)" fill="#000">Si-P2Y</text>
<text font-size="4.92" font-weight="700" stroke="#000" stroke-width="0.22" transform="translate(465.68 126.4) rotate(90)" fill="#000">1</text>
<text font-size="7" font-weight="700" stroke="#000" stroke-width="0.22" textLength="39.4" lengthAdjust="spacingAndGlyphs" transform="translate(487.18 99.4) rotate(90)" fill="#000">Si-RAGE+P2Y</text>
<text font-size="3.5" font-weight="700" stroke="#000" stroke-width="0.22" transform="translate(485.99 139.1) rotate(90)" fill="#000">1</text>
<line x1="424.8" y1="142.4" x2="492.9" y2="142.4" stroke="#000" stroke-width="1.35" stroke-linecap="butt"/>
<text font-size="7.8" font-weight="700" stroke="#000" stroke-width="0.3" textLength="108.7" lengthAdjust="spacingAndGlyphs" x="409.3" y="150.51" fill="#000">HMGB1(10 nM)+PolyP(2.5 µM)</text>
<text font-size="11.3" stroke="#000" stroke-width="0.5" x="380.8" y="8.6" fill="#000">D</text>
</g>
<g>
<line x1="24.3" y1="179.5" x2="24.3" y2="261.5" stroke="#111" stroke-width="1.3" stroke-linecap="butt"/>
<line x1="23.8" y1="261" x2="129.5" y2="261" stroke="#111" stroke-width="1.3" stroke-linecap="butt"/>
<line x1="24.3" y1="252.5" x2="26.7" y2="252.5" stroke="#111" stroke-width="1" stroke-linecap="butt"/>
<line x1="24.3" y1="244.5" x2="28.1" y2="244.5" stroke="#111" stroke-width="1.15" stroke-linecap="butt"/>
<line x1="24.3" y1="236.5" x2="26.7" y2="236.5" stroke="#111" stroke-width="1" stroke-linecap="butt"/>
<line x1="24.3" y1="228.5" x2="28.1" y2="228.5" stroke="#111" stroke-width="1.15" stroke-linecap="butt"/>
<line x1="24.3" y1="220.5" x2="26.7" y2="220.5" stroke="#111" stroke-width="1" stroke-linecap="butt"/>
<line x1="24.3" y1="212.5" x2="28.1" y2="212.5" stroke="#111" stroke-width="1.15" stroke-linecap="butt"/>
<line x1="24.3" y1="204.5" x2="26.7" y2="204.5" stroke="#111" stroke-width="1" stroke-linecap="butt"/>
<line x1="24.3" y1="196.5" x2="28.1" y2="196.5" stroke="#111" stroke-width="1.15" stroke-linecap="butt"/>
<line x1="24.3" y1="188.5" x2="26.7" y2="188.5" stroke="#111" stroke-width="1" stroke-linecap="butt"/>
<line x1="24.3" y1="180.5" x2="28.1" y2="180.5" stroke="#111" stroke-width="1.15" stroke-linecap="butt"/>
<line x1="24.3" y1="261" x2="24.3" y2="257.6" stroke="#111" stroke-width="1.1" stroke-linecap="butt"/>
<line x1="45.2" y1="261" x2="45.2" y2="257.6" stroke="#111" stroke-width="1.1" stroke-linecap="butt"/>
<line x1="66.1" y1="261" x2="66.1" y2="257.6" stroke="#111" stroke-width="1.1" stroke-linecap="butt"/>
<line x1="87" y1="261" x2="87" y2="257.6" stroke="#111" stroke-width="1.1" stroke-linecap="butt"/>
<line x1="107.9" y1="261" x2="107.9" y2="257.6" stroke="#111" stroke-width="1.1" stroke-linecap="butt"/>
<line x1="128.8" y1="261" x2="128.8" y2="257.6" stroke="#111" stroke-width="1.1" stroke-linecap="butt"/>
<text font-size="8.8" font-weight="700" stroke="#000" stroke-width="0.3" text-anchor="end" textLength="4.26" lengthAdjust="spacingAndGlyphs" x="20.8" y="264.17" fill="#000">0</text>
<text font-size="8.8" font-weight="700" stroke="#000" stroke-width="0.3" text-anchor="end" textLength="10.64" lengthAdjust="spacingAndGlyphs" x="20.8" y="247.97" fill="#000">0.2</text>
<text font-size="8.8" font-weight="700" stroke="#000" stroke-width="0.3" text-anchor="end" textLength="10.64" lengthAdjust="spacingAndGlyphs" x="20.8" y="231.77" fill="#000">0.4</text>
<text font-size="8.8" font-weight="700" stroke="#000" stroke-width="0.3" text-anchor="end" textLength="10.64" lengthAdjust="spacingAndGlyphs" x="20.8" y="215.57" fill="#000">0.6</text>
<text font-size="8.8" font-weight="700" stroke="#000" stroke-width="0.3" text-anchor="end" textLength="10.64" lengthAdjust="spacingAndGlyphs" x="20.8" y="199.37" fill="#000">0.8</text>
<text font-size="8.8" font-weight="700" stroke="#000" stroke-width="0.3" text-anchor="end" textLength="4.26" lengthAdjust="spacingAndGlyphs" x="20.8" y="183.17" fill="#000">1</text>
<line x1="33.5" y1="251.5" x2="33.5" y2="252" stroke="#505050" stroke-width="0.95" stroke-linecap="butt"/>
<line x1="30.6" y1="251.5" x2="36.4" y2="251.5" stroke="#505050" stroke-width="0.95" stroke-linecap="butt"/>
<rect x="27.95" y="252.5" width="12.1" height="8.5" fill="#848484" stroke="#3c3c3c" stroke-width="0.9"/>
<line x1="55.5" y1="217.5" x2="55.5" y2="221.2" stroke="#505050" stroke-width="0.95" stroke-linecap="butt"/>
<line x1="52.6" y1="217.5" x2="58.4" y2="217.5" stroke="#505050" stroke-width="0.95" stroke-linecap="butt"/>
<rect x="49.65" y="221.5" width="11.7" height="39.5" fill="#848484" stroke="#3c3c3c" stroke-width="0.9"/>
<line x1="76.5" y1="236.5" x2="76.5" y2="238.2" stroke="#505050" stroke-width="0.95" stroke-linecap="butt"/>
<line x1="73.6" y1="236.5" x2="79.4" y2="236.5" stroke="#505050" stroke-width="0.95" stroke-linecap="butt"/>
<rect x="70.45" y="238.5" width="12.1" height="22.5" fill="#848484" stroke="#3c3c3c" stroke-width="0.9"/>
<line x1="97.5" y1="235.5" x2="97.5" y2="238" stroke="#505050" stroke-width="0.95" stroke-linecap="butt"/>
<line x1="94.6" y1="235.5" x2="100.4" y2="235.5" stroke="#505050" stroke-width="0.95" stroke-linecap="butt"/>
<rect x="91.65" y="238.5" width="11.7" height="22.5" fill="#848484" stroke="#3c3c3c" stroke-width="0.9"/>
<line x1="118.5" y1="246.5" x2="118.5" y2="248.2" stroke="#505050" stroke-width="0.95" stroke-linecap="butt"/>
<line x1="115.6" y1="246.5" x2="121.4" y2="246.5" stroke="#505050" stroke-width="0.95" stroke-linecap="butt"/>
<rect x="112.45" y="248.5" width="11.6" height="12.5" fill="#848484" stroke="#3c3c3c" stroke-width="0.9"/>
<path d="M57.5 205.2 V202.7 Q57.5 201.5 58.7 201.5 H119.3 Q120.5 201.5 120.5 202.7 V205.2" fill="none" stroke="#000" stroke-width="1.15"/>
<circle cx="87.1" cy="198.4" r="1.4" fill="#000"/>
<path d="M87.1 198.4L87.1 196.7M87.1 198.4L88.48 197.87M87.1 198.4L87.95 199.78M87.1 198.4L86.25 199.78M87.1 198.4L85.72 197.87" stroke="#000" stroke-width="0.95" fill="none" stroke-linecap="round"/>
<circle cx="92.4" cy="198.4" r="1.4" fill="#000"/>
<path d="M92.4 198.4L92.4 196.7M92.4 198.4L93.78 197.87M92.4 198.4L93.25 199.78M92.4 198.4L91.55 199.78M92.4 198.4L91.02 197.87" stroke="#000" stroke-width="0.95" fill="none" stroke-linecap="round"/>
<path d="M56.5 214.7 V212.7 Q56.5 211.5 57.7 211.5 H85.3 Q86.5 211.5 86.5 212.7 V215.7" fill="none" stroke="#000" stroke-width="1.15"/>
<line x1="75.7" y1="215.5" x2="98.7" y2="215.5" stroke="#000" stroke-width="1.15" stroke-linecap="butt"/>
<circle cx="72.25" cy="208.4" r="1.4" fill="#000"/>
<path d="M72.25 208.4L72.25 206.7M72.25 208.4L73.63 207.87M72.25 208.4L73.1 209.78M72.25 208.4L71.4 209.78M72.25 208.4L70.87 207.87" stroke="#000" stroke-width="0.95" fill="none" stroke-linecap="round"/>
<path d="M94.5 232.7 V228.7 Q94.5 227.5 95.7 227.5 H119.3 Q120.5 227.5 120.5 228.7 V231.4" fill="none" stroke="#000" stroke-width="1.15"/>
<line x1="72.5" y1="232.5" x2="105.5" y2="232.5" stroke="#000" stroke-width="1.15" stroke-linecap="butt"/>
<circle cx="108.45" cy="223.9" r="1.4" fill="#000"/>
<path d="M108.45 223.9L108.45 222.2M108.45 223.9L109.83 223.37M108.45 223.9L109.3 225.28M108.45 223.9L107.6 225.28M108.45 223.9L107.07 223.37" stroke="#000" stroke-width="0.95" fill="none" stroke-linecap="round"/>
<text font-size="9.84" font-weight="700" stroke="#000" stroke-width="0.3" textLength="37.1" lengthAdjust="spacingAndGlyphs" transform="translate(31.26 262.8) rotate(90)" fill="#000">(-)Control</text>
<text font-size="9.84" font-weight="700" stroke="#000" stroke-width="0.3" textLength="38.2" lengthAdjust="spacingAndGlyphs" transform="translate(52.36 263.1) rotate(90)" fill="#000">Si-Control</text>
<text font-size="9.84" font-weight="700" stroke="#000" stroke-width="0.3" textLength="32.8" lengthAdjust="spacingAndGlyphs" transform="translate(73.86 263.1) rotate(90)" fill="#000">Si-RAGE</text>
<text font-size="9.84" font-weight="700" stroke="#000" stroke-width="0.3" textLength="25.7" lengthAdjust="spacingAndGlyphs" transform="translate(95.56 263.1) rotate(90)" fill="#000">Si-P2Y</text>
<text font-size="4.92" font-weight="700" stroke="#000" stroke-width="0.22" transform="translate(93.88 289.1) rotate(90)" fill="#000">1</text>
<text font-size="7" font-weight="700" stroke="#000" stroke-width="0.22" textLength="39.2" lengthAdjust="spacingAndGlyphs" transform="translate(117.38 262.6) rotate(90)" fill="#000">Si-RAGE+P2Y</text>
<text font-size="3.5" font-weight="700" stroke="#000" stroke-width="0.22" transform="translate(116.19 302.1) rotate(90)" fill="#000">1</text>
<line x1="52.5" y1="306.5" x2="122.4" y2="306.5" stroke="#000" stroke-width="1.35" stroke-linecap="butt"/>
<text font-size="7.8" font-weight="700" stroke="#000" stroke-width="0.3" textLength="96.9" lengthAdjust="spacingAndGlyphs" x="38" y="313.71" fill="#000">H4(0.44 µM)+PolyP(2.5 µM)</text>
<text font-size="6.9" font-weight="700" stroke="#000" stroke-width="0.22" textLength="61.7" lengthAdjust="spacingAndGlyphs" transform="translate(5.48 252.9) rotate(-90)" fill="#000">Permeability (OD 650)</text>
<text font-size="11.3" stroke="#000" stroke-width="0.5" x="0.6" y="173" fill="#000">E</text>
</g>
<g>
<line x1="177.2" y1="188.2" x2="177.2" y2="260.7" stroke="#111" stroke-width="1.3" stroke-linecap="butt"/>
<line x1="176.7" y1="260.2" x2="271" y2="260.2" stroke="#111" stroke-width="1.3" stroke-linecap="butt"/>
<line x1="177.2" y1="253.5" x2="179.6" y2="253.5" stroke="#111" stroke-width="1" stroke-linecap="butt"/>
<line x1="177.2" y1="245.5" x2="181" y2="245.5" stroke="#111" stroke-width="1.15" stroke-linecap="butt"/>
<line x1="177.2" y1="238.5" x2="179.6" y2="238.5" stroke="#111" stroke-width="1" stroke-linecap="butt"/>
<line x1="177.2" y1="231.5" x2="181" y2="231.5" stroke="#111" stroke-width="1.15" stroke-linecap="butt"/>
<line x1="177.2" y1="224.5" x2="179.6" y2="224.5" stroke="#111" stroke-width="1" stroke-linecap="butt"/>
<line x1="177.2" y1="217.5" x2="181" y2="217.5" stroke="#111" stroke-width="1.15" stroke-linecap="butt"/>
<line x1="177.2" y1="210.5" x2="179.6" y2="210.5" stroke="#111" stroke-width="1" stroke-linecap="butt"/>
<line x1="177.2" y1="203.5" x2="181" y2="203.5" stroke="#111" stroke-width="1.15" stroke-linecap="butt"/>
<line x1="177.2" y1="195.5" x2="179.6" y2="195.5" stroke="#111" stroke-width="1" stroke-linecap="butt"/>
<line x1="177.2" y1="188.5" x2="181" y2="188.5" stroke="#111" stroke-width="1.15" stroke-linecap="butt"/>
<line x1="177" y1="260.2" x2="177" y2="256.8" stroke="#111" stroke-width="1.1" stroke-linecap="butt"/>
<line x1="195.66" y1="260.2" x2="195.66" y2="256.8" stroke="#111" stroke-width="1.1" stroke-linecap="butt"/>
<line x1="214.32" y1="260.2" x2="214.32" y2="256.8" stroke="#111" stroke-width="1.1" stroke-linecap="butt"/>
<line x1="232.98" y1="260.2" x2="232.98" y2="256.8" stroke="#111" stroke-width="1.1" stroke-linecap="butt"/>
<line x1="251.64" y1="260.2" x2="251.64" y2="256.8" stroke="#111" stroke-width="1.1" stroke-linecap="butt"/>
<line x1="270.3" y1="260.2" x2="270.3" y2="256.8" stroke="#111" stroke-width="1.1" stroke-linecap="butt"/>
<text font-size="7.4" font-weight="700" stroke="#000" stroke-width="0.22" text-anchor="end" textLength="3.58" lengthAdjust="spacingAndGlyphs" x="172.6" y="262.86" fill="#000">0</text>
<text font-size="7.4" font-weight="700" stroke="#000" stroke-width="0.22" text-anchor="end" textLength="8.95" lengthAdjust="spacingAndGlyphs" x="172.6" y="248.56" fill="#000">0.2</text>
<text font-size="7.4" font-weight="700" stroke="#000" stroke-width="0.22" text-anchor="end" textLength="8.95" lengthAdjust="spacingAndGlyphs" x="172.6" y="234.26" fill="#000">0.4</text>
<text font-size="7.4" font-weight="700" stroke="#000" stroke-width="0.22" text-anchor="end" textLength="8.95" lengthAdjust="spacingAndGlyphs" x="172.6" y="219.96" fill="#000">0.6</text>
<text font-size="7.4" font-weight="700" stroke="#000" stroke-width="0.22" text-anchor="end" textLength="8.95" lengthAdjust="spacingAndGlyphs" x="172.6" y="205.66" fill="#000">0.8</text>
<text font-size="7.4" font-weight="700" stroke="#000" stroke-width="0.22" text-anchor="end" textLength="3.58" lengthAdjust="spacingAndGlyphs" x="172.6" y="191.36" fill="#000">1</text>
<line x1="182.5" y1="251.5" x2="182.5" y2="252.3" stroke="#505050" stroke-width="0.95" stroke-linecap="butt"/>
<line x1="179.6" y1="251.5" x2="185.4" y2="251.5" stroke="#505050" stroke-width="0.95" stroke-linecap="butt"/>
<rect x="179.65" y="252.5" width="5.9" height="7.7" fill="#848484" stroke="#3c3c3c" stroke-width="0.9"/>
<line x1="201.5" y1="217.5" x2="201.5" y2="221.2" stroke="#505050" stroke-width="0.95" stroke-linecap="butt"/>
<line x1="198.75" y1="217.5" x2="204.25" y2="217.5" stroke="#505050" stroke-width="0.95" stroke-linecap="butt"/>
<rect x="198.65" y="221.5" width="5.4" height="38.7" fill="#848484" stroke="#3c3c3c" stroke-width="0.9"/>
<line x1="208.5" y1="217.5" x2="208.5" y2="220.7" stroke="#333" stroke-width="0.95" stroke-linecap="butt"/>
<line x1="205.6" y1="217.5" x2="211.4" y2="217.5" stroke="#333" stroke-width="0.95" stroke-linecap="butt"/>
<rect x="205.7" y="220.7" width="6.8" height="39.5" fill="#0a0a0a"/>
<line x1="219.5" y1="234.5" x2="219.5" y2="237.5" stroke="#505050" stroke-width="0.95" stroke-linecap="butt"/>
<line x1="216.6" y1="234.5" x2="222.4" y2="234.5" stroke="#505050" stroke-width="0.95" stroke-linecap="butt"/>
<rect x="216.65" y="237.5" width="6.1" height="22.7" fill="#848484" stroke="#3c3c3c" stroke-width="0.9"/>
<line x1="227.5" y1="238.5" x2="227.5" y2="240" stroke="#333" stroke-width="0.95" stroke-linecap="butt"/>
<line x1="224.65" y1="238.5" x2="230.35" y2="238.5" stroke="#333" stroke-width="0.95" stroke-linecap="butt"/>
<rect x="224.2" y="240" width="6.5" height="20.2" fill="#0a0a0a"/>
<line x1="238.5" y1="212.5" x2="238.5" y2="216.7" stroke="#505050" stroke-width="0.95" stroke-linecap="butt"/>
<line x1="235.6" y1="212.5" x2="241.4" y2="212.5" stroke="#505050" stroke-width="0.95" stroke-linecap="butt"/>
<rect x="235.45" y="216.5" width="5.8" height="43.7" fill="#848484" stroke="#3c3c3c" stroke-width="0.9"/>
<line x1="246.5" y1="211.5" x2="246.5" y2="215" stroke="#333" stroke-width="0.95" stroke-linecap="butt"/>
<line x1="243.65" y1="211.5" x2="249.35" y2="211.5" stroke="#333" stroke-width="0.95" stroke-linecap="butt"/>
<rect x="243" y="215" width="6.5" height="45.2" fill="#0a0a0a"/>
<line x1="256.5" y1="235.5" x2="256.5" y2="238" stroke="#505050" stroke-width="0.95" stroke-linecap="butt"/>
<line x1="253.6" y1="235.5" x2="259.4" y2="235.5" stroke="#505050" stroke-width="0.95" stroke-linecap="butt"/>
<rect x="254.15" y="238.5" width="5.9" height="21.7" fill="#848484" stroke="#3c3c3c" stroke-width="0.9"/>
<line x1="264.5" y1="239.5" x2="264.5" y2="240.5" stroke="#333" stroke-width="0.95" stroke-linecap="butt"/>
<line x1="261.75" y1="239.5" x2="267.25" y2="239.5" stroke="#333" stroke-width="0.95" stroke-linecap="butt"/>
<rect x="261.7" y="240.5" width="6.3" height="19.7" fill="#0a0a0a"/>
<path d="M203.5 215.2 V210.7 Q203.5 209.5 204.7 209.5 H224.3 Q225.5 209.5 225.5 210.7 V215.2" fill="none" stroke="#000" stroke-width="1.15"/>
<line x1="197.5" y1="214.5" x2="211" y2="214.5" stroke="#000" stroke-width="1.15" stroke-linecap="butt"/>
<line x1="217.7" y1="214.5" x2="231.3" y2="214.5" stroke="#000" stroke-width="1.15" stroke-linecap="butt"/>
<circle cx="214.25" cy="205.9" r="1.4" fill="#000"/>
<path d="M214.25 205.9L214.25 204.2M214.25 205.9L215.63 205.37M214.25 205.9L215.1 207.28M214.25 205.9L213.4 207.28M214.25 205.9L212.87 205.37" stroke="#000" stroke-width="0.95" fill="none" stroke-linecap="round"/>
<path d="M241.5 211.2 V207.7 Q241.5 206.5 242.7 206.5 H262.3 Q263.5 206.5 263.5 207.7 V210.7" fill="none" stroke="#000" stroke-width="1.15"/>
<line x1="235" y1="211.5" x2="247.3" y2="211.5" stroke="#000" stroke-width="1.15" stroke-linecap="butt"/>
<line x1="256.3" y1="210.5" x2="269" y2="210.5" stroke="#000" stroke-width="1.15" stroke-linecap="butt"/>
<circle cx="252.35" cy="202.2" r="1.4" fill="#000"/>
<path d="M252.35 202.2L252.35 200.5M252.35 202.2L253.73 201.67M252.35 202.2L253.2 203.58M252.35 202.2L251.5 203.58M252.35 202.2L250.97 201.67" stroke="#000" stroke-width="0.95" fill="none" stroke-linecap="round"/>
<text font-size="9.84" font-weight="700" stroke="#000" stroke-width="0.3" textLength="38.3" lengthAdjust="spacingAndGlyphs" transform="translate(179.86 261.2) rotate(90)" fill="#000">(-)Control</text>
<text font-size="9.84" font-weight="700" stroke="#000" stroke-width="0.3" textLength="39.5" lengthAdjust="spacingAndGlyphs" transform="translate(201.86 261.8) rotate(90)" fill="#000">Si-Control</text>
<text font-size="9.84" font-weight="700" stroke="#000" stroke-width="0.3" textLength="34" lengthAdjust="spacingAndGlyphs" transform="translate(219.86 261.8) rotate(90)" fill="#000">Si-RAGE</text>
<text font-size="9.84" font-weight="700" stroke="#000" stroke-width="0.3" textLength="26.7" lengthAdjust="spacingAndGlyphs" transform="translate(240.66 261.8) rotate(90)" fill="#000">Si-P2Y</text>
<text font-size="4.92" font-weight="700" stroke="#000" stroke-width="0.22" transform="translate(238.98 288.8) rotate(90)" fill="#000">1</text>
<text font-size="7" font-weight="700" stroke="#000" stroke-width="0.22" textLength="39.6" lengthAdjust="spacingAndGlyphs" transform="translate(259.98 261.2) rotate(90)" fill="#000">Si-RAGE+P2Y</text>
<text font-size="3.5" font-weight="700" stroke="#000" stroke-width="0.22" transform="translate(258.79 301.1) rotate(90)" fill="#000">1</text>
<line x1="199.1" y1="306.3" x2="268.6" y2="306.3" stroke="#000" stroke-width="1.35" stroke-linecap="butt"/>
<text font-size="7.8" font-weight="700" stroke="#000" stroke-width="0.3" textLength="55.9" lengthAdjust="spacingAndGlyphs" x="203.8" y="313.51" fill="#000">HMGB1 (40 nM)</text>
<text font-size="7.8" font-weight="700" stroke="#000" stroke-width="0.3" textLength="53.3" lengthAdjust="spacingAndGlyphs" transform="translate(161.51 244.3) rotate(-90)" fill="#000">ELISA (OD 405)</text>
<text font-size="11.3" stroke="#000" stroke-width="0.5" x="155.7" y="173" fill="#000">F</text>
<rect x="249.2" y="177.1" width="3.7" height="3.7" fill="#8c8c8c" stroke="#2a2a2a" stroke-width="0.8"/>
<text font-size="6.2" stroke="#000" stroke-width="0.3" font-weight="700" textLength="18" lengthAdjust="spacingAndGlyphs" x="254.4" y="181.3" fill="#000">VCAM</text>
<rect x="248.5" y="190.8" width="5.1" height="5.3" fill="#000"/>
<text font-size="7" stroke="#000" stroke-width="0.3" font-weight="700" textLength="27.5" lengthAdjust="spacingAndGlyphs" x="254.7" y="196" fill="#000">E-selectin</text>
</g>
<g>
<line x1="300" y1="182" x2="300" y2="256.3" stroke="#111" stroke-width="1.3" stroke-linecap="butt"/>
<line x1="299.5" y1="255.8" x2="396.5" y2="255.8" stroke="#111" stroke-width="1.3" stroke-linecap="butt"/>
<line x1="300" y1="248.5" x2="302.4" y2="248.5" stroke="#111" stroke-width="1" stroke-linecap="butt"/>
<line x1="300" y1="241.5" x2="303.8" y2="241.5" stroke="#111" stroke-width="1.15" stroke-linecap="butt"/>
<line x1="300" y1="233.5" x2="302.4" y2="233.5" stroke="#111" stroke-width="1" stroke-linecap="butt"/>
<line x1="300" y1="226.5" x2="303.8" y2="226.5" stroke="#111" stroke-width="1.15" stroke-linecap="butt"/>
<line x1="300" y1="219.5" x2="302.4" y2="219.5" stroke="#111" stroke-width="1" stroke-linecap="butt"/>
<line x1="300" y1="211.5" x2="303.8" y2="211.5" stroke="#111" stroke-width="1.15" stroke-linecap="butt"/>
<line x1="300" y1="204.5" x2="302.4" y2="204.5" stroke="#111" stroke-width="1" stroke-linecap="butt"/>
<line x1="300" y1="197.5" x2="303.8" y2="197.5" stroke="#111" stroke-width="1.15" stroke-linecap="butt"/>
<line x1="300" y1="189.5" x2="302.4" y2="189.5" stroke="#111" stroke-width="1" stroke-linecap="butt"/>
<line x1="300" y1="182.5" x2="303.8" y2="182.5" stroke="#111" stroke-width="1.15" stroke-linecap="butt"/>
<line x1="300" y1="255.8" x2="300" y2="252.4" stroke="#111" stroke-width="1.1" stroke-linecap="butt"/>
<line x1="319" y1="255.8" x2="319" y2="252.4" stroke="#111" stroke-width="1.1" stroke-linecap="butt"/>
<line x1="338" y1="255.8" x2="338" y2="252.4" stroke="#111" stroke-width="1.1" stroke-linecap="butt"/>
<line x1="357" y1="255.8" x2="357" y2="252.4" stroke="#111" stroke-width="1.1" stroke-linecap="butt"/>
<line x1="376" y1="255.8" x2="376" y2="252.4" stroke="#111" stroke-width="1.1" stroke-linecap="butt"/>
<line x1="395" y1="255.8" x2="395" y2="252.4" stroke="#111" stroke-width="1.1" stroke-linecap="butt"/>
<text font-size="8.4" font-weight="700" stroke="#000" stroke-width="0.3" text-anchor="end" textLength="4.06" lengthAdjust="spacingAndGlyphs" x="295.3" y="258.82" fill="#000">0</text>
<text font-size="8.4" font-weight="700" stroke="#000" stroke-width="0.3" text-anchor="end" textLength="10.16" lengthAdjust="spacingAndGlyphs" x="295.3" y="244.16" fill="#000">0.2</text>
<text font-size="8.4" font-weight="700" stroke="#000" stroke-width="0.3" text-anchor="end" textLength="10.16" lengthAdjust="spacingAndGlyphs" x="295.3" y="229.5" fill="#000">0.4</text>
<text font-size="8.4" font-weight="700" stroke="#000" stroke-width="0.3" text-anchor="end" textLength="10.16" lengthAdjust="spacingAndGlyphs" x="295.3" y="214.84" fill="#000">0.6</text>
<text font-size="8.4" font-weight="700" stroke="#000" stroke-width="0.3" text-anchor="end" textLength="10.16" lengthAdjust="spacingAndGlyphs" x="295.3" y="200.18" fill="#000">0.8</text>
<text font-size="8.4" font-weight="700" stroke="#000" stroke-width="0.3" text-anchor="end" textLength="4.06" lengthAdjust="spacingAndGlyphs" x="295.3" y="185.52" fill="#000">1</text>
<line x1="304.5" y1="247.5" x2="304.5" y2="248" stroke="#505050" stroke-width="0.95" stroke-linecap="butt"/>
<line x1="301.6" y1="247.5" x2="307.4" y2="247.5" stroke="#505050" stroke-width="0.95" stroke-linecap="butt"/>
<rect x="300.85" y="248.5" width="7.5" height="7.3" fill="#848484" stroke="#3c3c3c" stroke-width="0.9"/>
<line x1="323.5" y1="206.5" x2="323.5" y2="211.7" stroke="#505050" stroke-width="0.95" stroke-linecap="butt"/>
<line x1="320.6" y1="206.5" x2="326.4" y2="206.5" stroke="#505050" stroke-width="0.95" stroke-linecap="butt"/>
<rect x="320.45" y="211.5" width="7.1" height="44.3" fill="#848484" stroke="#3c3c3c" stroke-width="0.9"/>
<line x1="332.5" y1="207.5" x2="332.5" y2="211.2" stroke="#333" stroke-width="0.95" stroke-linecap="butt"/>
<line x1="329.6" y1="207.5" x2="335.4" y2="207.5" stroke="#333" stroke-width="0.95" stroke-linecap="butt"/>
<rect x="329.2" y="211.2" width="7.8" height="44.6" fill="#0a0a0a"/>
<line x1="343.5" y1="232.5" x2="343.5" y2="235" stroke="#505050" stroke-width="0.95" stroke-linecap="butt"/>
<line x1="340.6" y1="232.5" x2="346.4" y2="232.5" stroke="#505050" stroke-width="0.95" stroke-linecap="butt"/>
<rect x="339.95" y="235.5" width="6.6" height="20.3" fill="#848484" stroke="#3c3c3c" stroke-width="0.9"/>
<line x1="351.5" y1="237.5" x2="351.5" y2="239" stroke="#333" stroke-width="0.95" stroke-linecap="butt"/>
<line x1="348.6" y1="237.5" x2="354.4" y2="237.5" stroke="#333" stroke-width="0.95" stroke-linecap="butt"/>
<rect x="348.2" y="239" width="7.5" height="16.8" fill="#0a0a0a"/>
<line x1="362.5" y1="205.5" x2="362.5" y2="210" stroke="#505050" stroke-width="0.95" stroke-linecap="butt"/>
<line x1="359.6" y1="205.5" x2="365.4" y2="205.5" stroke="#505050" stroke-width="0.95" stroke-linecap="butt"/>
<rect x="358.85" y="210.5" width="6.9" height="45.3" fill="#848484" stroke="#3c3c3c" stroke-width="0.9"/>
<line x1="371.5" y1="204.5" x2="371.5" y2="208.2" stroke="#333" stroke-width="0.95" stroke-linecap="butt"/>
<line x1="368.6" y1="204.5" x2="374.4" y2="204.5" stroke="#333" stroke-width="0.95" stroke-linecap="butt"/>
<rect x="367.5" y="208.2" width="8" height="47.6" fill="#0a0a0a"/>
<line x1="381.5" y1="231.5" x2="381.5" y2="234.2" stroke="#505050" stroke-width="0.95" stroke-linecap="butt"/>
<line x1="378.6" y1="231.5" x2="384.4" y2="231.5" stroke="#505050" stroke-width="0.95" stroke-linecap="butt"/>
<rect x="377.85" y="234.5" width="7.2" height="21.3" fill="#848484" stroke="#3c3c3c" stroke-width="0.9"/>
<line x1="390.5" y1="234.5" x2="390.5" y2="236.2" stroke="#333" stroke-width="0.95" stroke-linecap="butt"/>
<line x1="387.6" y1="234.5" x2="393.4" y2="234.5" stroke="#333" stroke-width="0.95" stroke-linecap="butt"/>
<rect x="386.7" y="236.2" width="7.8" height="19.6" fill="#0a0a0a"/>
<path d="M327.5 203.2 V199.7 Q327.5 198.5 328.7 198.5 H348.3 Q349.5 198.5 349.5 199.7 V203.9" fill="none" stroke="#000" stroke-width="1.15"/>
<line x1="321.2" y1="202.5" x2="334.5" y2="202.5" stroke="#000" stroke-width="1.15" stroke-linecap="butt"/>
<line x1="342" y1="203.5" x2="355.5" y2="203.5" stroke="#000" stroke-width="1.15" stroke-linecap="butt"/>
<circle cx="338.45" cy="193.9" r="1.4" fill="#000"/>
<path d="M338.45 193.9L338.45 192.2M338.45 193.9L339.83 193.37M338.45 193.9L339.3 195.28M338.45 193.9L337.6 195.28M338.45 193.9L337.07 193.37" stroke="#000" stroke-width="0.95" fill="none" stroke-linecap="round"/>
<path d="M368.5 198.4 V194.7 Q368.5 193.5 369.7 193.5 H385.3 Q386.5 193.5 386.5 194.7 V198.4" fill="none" stroke="#000" stroke-width="1.15"/>
<line x1="361.2" y1="198.5" x2="375" y2="198.5" stroke="#000" stroke-width="1.15" stroke-linecap="butt"/>
<line x1="380.5" y1="198.5" x2="393.7" y2="198.5" stroke="#000" stroke-width="1.15" stroke-linecap="butt"/>
<circle cx="375.95" cy="190.2" r="1.4" fill="#000"/>
<path d="M375.95 190.2L375.95 188.5M375.95 190.2L377.33 189.67M375.95 190.2L376.8 191.58M375.95 190.2L375.1 191.58M375.95 190.2L374.57 189.67" stroke="#000" stroke-width="0.95" fill="none" stroke-linecap="round"/>
<text font-size="9.84" font-weight="700" stroke="#000" stroke-width="0.3" textLength="37.5" lengthAdjust="spacingAndGlyphs" transform="translate(303.86 257.6) rotate(90)" fill="#000">(-)Control</text>
<text font-size="9.84" font-weight="700" stroke="#000" stroke-width="0.3" textLength="39.7" lengthAdjust="spacingAndGlyphs" transform="translate(324.36 258.1) rotate(90)" fill="#000">Si-Control</text>
<text font-size="9.84" font-weight="700" stroke="#000" stroke-width="0.3" textLength="33" lengthAdjust="spacingAndGlyphs" transform="translate(345.16 258.1) rotate(90)" fill="#000">Si-RAGE</text>
<text font-size="9.84" font-weight="700" stroke="#000" stroke-width="0.3" textLength="25.4" lengthAdjust="spacingAndGlyphs" transform="translate(364.96 258.1) rotate(90)" fill="#000">Si-P2Y</text>
<text font-size="4.92" font-weight="700" stroke="#000" stroke-width="0.22" transform="translate(363.28 283.8) rotate(90)" fill="#000">1</text>
<text font-size="8.5" font-weight="700" stroke="#000" stroke-width="0.3" textLength="45.3" lengthAdjust="spacingAndGlyphs" transform="translate(386.54 257.6) rotate(90)" fill="#000">Si-RAGE+P2Y</text>
<text font-size="4.25" font-weight="700" stroke="#000" stroke-width="0.22" transform="translate(385.09 303.2) rotate(90)" fill="#000">1</text>
<line x1="322.5" y1="308.4" x2="391.8" y2="308.4" stroke="#000" stroke-width="1.35" stroke-linecap="butt"/>
<text font-size="7.8" font-weight="700" stroke="#000" stroke-width="0.3" textLength="43.8" lengthAdjust="spacingAndGlyphs" x="331.6" y="316.51" fill="#000">H4 (3.5 µM)</text>
<text font-size="11.3" stroke="#000" stroke-width="0.5" x="289.4" y="172.3" fill="#000">G</text>
</g>
<g>
<line x1="423.7" y1="185" x2="423.7" y2="259.8" stroke="#111" stroke-width="1.3" stroke-linecap="butt"/>
<line x1="423.2" y1="259.3" x2="520.5" y2="259.3" stroke="#111" stroke-width="1.3" stroke-linecap="butt"/>
<line x1="423.7" y1="251.5" x2="426.1" y2="251.5" stroke="#111" stroke-width="1" stroke-linecap="butt"/>
<line x1="423.7" y1="244.5" x2="427.5" y2="244.5" stroke="#111" stroke-width="1.15" stroke-linecap="butt"/>
<line x1="423.7" y1="237.5" x2="426.1" y2="237.5" stroke="#111" stroke-width="1" stroke-linecap="butt"/>
<line x1="423.7" y1="229.5" x2="427.5" y2="229.5" stroke="#111" stroke-width="1.15" stroke-linecap="butt"/>
<line x1="423.7" y1="222.5" x2="426.1" y2="222.5" stroke="#111" stroke-width="1" stroke-linecap="butt"/>
<line x1="423.7" y1="215.5" x2="427.5" y2="215.5" stroke="#111" stroke-width="1.15" stroke-linecap="butt"/>
<line x1="423.7" y1="207.5" x2="426.1" y2="207.5" stroke="#111" stroke-width="1" stroke-linecap="butt"/>
<line x1="423.7" y1="200.5" x2="427.5" y2="200.5" stroke="#111" stroke-width="1.15" stroke-linecap="butt"/>
<line x1="423.7" y1="192.5" x2="426.1" y2="192.5" stroke="#111" stroke-width="1" stroke-linecap="butt"/>
<line x1="423.7" y1="185.5" x2="427.5" y2="185.5" stroke="#111" stroke-width="1.15" stroke-linecap="butt"/>
<line x1="423.7" y1="259.3" x2="423.7" y2="255.9" stroke="#111" stroke-width="1.1" stroke-linecap="butt"/>
<line x1="442.96" y1="259.3" x2="442.96" y2="255.9" stroke="#111" stroke-width="1.1" stroke-linecap="butt"/>
<line x1="462.22" y1="259.3" x2="462.22" y2="255.9" stroke="#111" stroke-width="1.1" stroke-linecap="butt"/>
<line x1="481.48" y1="259.3" x2="481.48" y2="255.9" stroke="#111" stroke-width="1.1" stroke-linecap="butt"/>
<line x1="500.74" y1="259.3" x2="500.74" y2="255.9" stroke="#111" stroke-width="1.1" stroke-linecap="butt"/>
<line x1="520" y1="259.3" x2="520" y2="255.9" stroke="#111" stroke-width="1.1" stroke-linecap="butt"/>
<text font-size="8.4" font-weight="700" stroke="#000" stroke-width="0.3" text-anchor="end" textLength="4.06" lengthAdjust="spacingAndGlyphs" x="419.4" y="262.32" fill="#000">0</text>
<text font-size="8.4" font-weight="700" stroke="#000" stroke-width="0.3" text-anchor="end" textLength="10.16" lengthAdjust="spacingAndGlyphs" x="419.4" y="247.56" fill="#000">0.2</text>
<text font-size="8.4" font-weight="700" stroke="#000" stroke-width="0.3" text-anchor="end" textLength="10.16" lengthAdjust="spacingAndGlyphs" x="419.4" y="232.8" fill="#000">0.4</text>
<text font-size="8.4" font-weight="700" stroke="#000" stroke-width="0.3" text-anchor="end" textLength="10.16" lengthAdjust="spacingAndGlyphs" x="419.4" y="218.04" fill="#000">0.6</text>
<text font-size="8.4" font-weight="700" stroke="#000" stroke-width="0.3" text-anchor="end" textLength="10.16" lengthAdjust="spacingAndGlyphs" x="419.4" y="203.28" fill="#000">0.8</text>
<text font-size="8.4" font-weight="700" stroke="#000" stroke-width="0.3" text-anchor="end" textLength="4.06" lengthAdjust="spacingAndGlyphs" x="419.4" y="188.52" fill="#000">1</text>
<line x1="428.5" y1="250.5" x2="428.5" y2="251.4" stroke="#505050" stroke-width="0.95" stroke-linecap="butt"/>
<line x1="425.6" y1="250.5" x2="431.4" y2="250.5" stroke="#505050" stroke-width="0.95" stroke-linecap="butt"/>
<rect x="424.75" y="251.5" width="7.4" height="7.8" fill="#848484" stroke="#3c3c3c" stroke-width="0.9"/>
<line x1="447.5" y1="218.5" x2="447.5" y2="222.5" stroke="#505050" stroke-width="0.95" stroke-linecap="butt"/>
<line x1="444.6" y1="218.5" x2="450.4" y2="218.5" stroke="#505050" stroke-width="0.95" stroke-linecap="butt"/>
<rect x="444.25" y="222.5" width="7.3" height="36.8" fill="#848484" stroke="#3c3c3c" stroke-width="0.9"/>
<line x1="456.5" y1="213.5" x2="456.5" y2="217" stroke="#333" stroke-width="0.95" stroke-linecap="butt"/>
<line x1="453.6" y1="213.5" x2="459.4" y2="213.5" stroke="#333" stroke-width="0.95" stroke-linecap="butt"/>
<rect x="453.2" y="217" width="8" height="42.3" fill="#0a0a0a"/>
<line x1="466.5" y1="240.5" x2="466.5" y2="242.5" stroke="#505050" stroke-width="0.95" stroke-linecap="butt"/>
<line x1="463.6" y1="240.5" x2="469.4" y2="240.5" stroke="#505050" stroke-width="0.95" stroke-linecap="butt"/>
<rect x="463.65" y="242.5" width="6.6" height="16.8" fill="#848484" stroke="#3c3c3c" stroke-width="0.9"/>
<line x1="476.5" y1="239.5" x2="476.5" y2="240.7" stroke="#333" stroke-width="0.95" stroke-linecap="butt"/>
<line x1="473.6" y1="239.5" x2="479.4" y2="239.5" stroke="#333" stroke-width="0.95" stroke-linecap="butt"/>
<rect x="472.5" y="240.7" width="7.5" height="18.6" fill="#0a0a0a"/>
<line x1="485.5" y1="238.5" x2="485.5" y2="240.5" stroke="#505050" stroke-width="0.95" stroke-linecap="butt"/>
<line x1="482.6" y1="238.5" x2="488.4" y2="238.5" stroke="#505050" stroke-width="0.95" stroke-linecap="butt"/>
<rect x="482.45" y="240.5" width="6.6" height="18.8" fill="#848484" stroke="#3c3c3c" stroke-width="0.9"/>
<line x1="494.5" y1="238.5" x2="494.5" y2="240" stroke="#333" stroke-width="0.95" stroke-linecap="butt"/>
<line x1="491.6" y1="238.5" x2="497.4" y2="238.5" stroke="#333" stroke-width="0.95" stroke-linecap="butt"/>
<rect x="491.2" y="240" width="8" height="19.3" fill="#0a0a0a"/>
<line x1="504.5" y1="246.5" x2="504.5" y2="248.2" stroke="#505050" stroke-width="0.95" stroke-linecap="butt"/>
<line x1="501.6" y1="246.5" x2="507.4" y2="246.5" stroke="#505050" stroke-width="0.95" stroke-linecap="butt"/>
<rect x="501.65" y="248.5" width="6.6" height="10.8" fill="#848484" stroke="#3c3c3c" stroke-width="0.9"/>
<line x1="514.5" y1="247.5" x2="514.5" y2="248" stroke="#333" stroke-width="0.95" stroke-linecap="butt"/>
<line x1="511.6" y1="247.5" x2="517.4" y2="247.5" stroke="#333" stroke-width="0.95" stroke-linecap="butt"/>
<rect x="510.5" y="248" width="7.7" height="11.3" fill="#0a0a0a"/>
<path d="M452.5 199.4 V195.7 Q452.5 194.5 453.7 194.5 H505.3 Q506.5 194.5 506.5 195.7 V199.4" fill="none" stroke="#000" stroke-width="1.15"/>
<line x1="446.2" y1="199.5" x2="459.5" y2="199.5" stroke="#000" stroke-width="1.15" stroke-linecap="butt"/>
<line x1="498.7" y1="199.5" x2="512" y2="199.5" stroke="#000" stroke-width="1.15" stroke-linecap="butt"/>
<circle cx="474.6" cy="191.4" r="1.4" fill="#000"/>
<path d="M474.6 191.4L474.6 189.7M474.6 191.4L475.98 190.87M474.6 191.4L475.45 192.78M474.6 191.4L473.75 192.78M474.6 191.4L473.22 190.87" stroke="#000" stroke-width="0.95" fill="none" stroke-linecap="round"/>
<circle cx="479.9" cy="191.4" r="1.4" fill="#000"/>
<path d="M479.9 191.4L479.9 189.7M479.9 191.4L481.28 190.87M479.9 191.4L480.75 192.78M479.9 191.4L479.05 192.78M479.9 191.4L478.52 190.87" stroke="#000" stroke-width="0.95" fill="none" stroke-linecap="round"/>
<path d="M452.5 209.2 V206.7 Q452.5 205.5 453.7 205.5 H481.3 Q482.5 205.5 482.5 206.7 V209.2" fill="none" stroke="#000" stroke-width="1.15"/>
<line x1="446.2" y1="208.5" x2="458.7" y2="208.5" stroke="#000" stroke-width="1.15" stroke-linecap="butt"/>
<line x1="466.2" y1="208.5" x2="497" y2="208.5" stroke="#000" stroke-width="1.15" stroke-linecap="butt"/>
<circle cx="468.05" cy="201.4" r="1.4" fill="#000"/>
<path d="M468.05 201.4L468.05 199.7M468.05 201.4L469.43 200.87M468.05 201.4L468.9 202.78M468.05 201.4L467.2 202.78M468.05 201.4L466.67 200.87" stroke="#000" stroke-width="0.95" fill="none" stroke-linecap="round"/>
<path d="M484.5 230.2 V226.7 Q484.5 225.5 485.7 225.5 H509.3 Q510.5 225.5 510.5 226.7 V230.2" fill="none" stroke="#000" stroke-width="1.15"/>
<line x1="465" y1="229.5" x2="495" y2="229.5" stroke="#000" stroke-width="1.15" stroke-linecap="butt"/>
<line x1="503.7" y1="229.5" x2="517.5" y2="229.5" stroke="#000" stroke-width="1.15" stroke-linecap="butt"/>
<circle cx="498.45" cy="220.9" r="1.4" fill="#000"/>
<path d="M498.45 220.9L498.45 219.2M498.45 220.9L499.83 220.37M498.45 220.9L499.3 222.28M498.45 220.9L497.6 222.28M498.45 220.9L497.07 220.37" stroke="#000" stroke-width="0.95" fill="none" stroke-linecap="round"/>
<text font-size="9.84" font-weight="700" stroke="#000" stroke-width="0.3" textLength="37.3" lengthAdjust="spacingAndGlyphs" transform="translate(426.06 261) rotate(90)" fill="#000">(-)Control</text>
<text font-size="9.84" font-weight="700" stroke="#000" stroke-width="0.3" textLength="39.7" lengthAdjust="spacingAndGlyphs" transform="translate(447.76 261.6) rotate(90)" fill="#000">Si-Control</text>
<text font-size="9.84" font-weight="700" stroke="#000" stroke-width="0.3" textLength="34.1" lengthAdjust="spacingAndGlyphs" transform="translate(468.06 261.6) rotate(90)" fill="#000">Si-RAGE</text>
<text font-size="8.5" font-weight="700" stroke="#000" stroke-width="0.3" textLength="21.5" lengthAdjust="spacingAndGlyphs" transform="translate(485.94 261.2) rotate(90)" fill="#000">Si-P2Y</text>
<text font-size="4.25" font-weight="700" stroke="#000" stroke-width="0.22" transform="translate(484.5 283) rotate(90)" fill="#000">1</text>
<text font-size="7" font-weight="700" stroke="#000" stroke-width="0.22" textLength="39.1" lengthAdjust="spacingAndGlyphs" transform="translate(506.88 261.2) rotate(90)" fill="#000">Si-RAGE+P2Y</text>
<text font-size="3.5" font-weight="700" stroke="#000" stroke-width="0.22" transform="translate(505.69 300.6) rotate(90)" fill="#000">1</text>
<line x1="446.4" y1="305.4" x2="515.2" y2="305.4" stroke="#000" stroke-width="1.35" stroke-linecap="butt"/>
<text font-size="8" font-weight="700" stroke="#000" stroke-width="0.3" textLength="51.2" lengthAdjust="spacingAndGlyphs" x="455" y="315.28" fill="#000">PolyP(50 µM)</text>
<text font-size="11.3" stroke="#000" stroke-width="0.5" x="409.5" y="172.3" fill="#000">H</text>
</g>
<g>
<line x1="23" y1="341.5" x2="23" y2="425.5" stroke="#111" stroke-width="1.3" stroke-linecap="butt"/>
<line x1="22.5" y1="425" x2="130.5" y2="425" stroke="#111" stroke-width="1.3" stroke-linecap="butt"/>
<line x1="23" y1="416.5" x2="25.4" y2="416.5" stroke="#111" stroke-width="1" stroke-linecap="butt"/>
<line x1="23" y1="408.5" x2="26.8" y2="408.5" stroke="#111" stroke-width="1.15" stroke-linecap="butt"/>
<line x1="23" y1="400.5" x2="25.4" y2="400.5" stroke="#111" stroke-width="1" stroke-linecap="butt"/>
<line x1="23" y1="391.5" x2="26.8" y2="391.5" stroke="#111" stroke-width="1.15" stroke-linecap="butt"/>
<line x1="23" y1="383.5" x2="25.4" y2="383.5" stroke="#111" stroke-width="1" stroke-linecap="butt"/>
<line x1="23" y1="375.5" x2="26.8" y2="375.5" stroke="#111" stroke-width="1.15" stroke-linecap="butt"/>
<line x1="23" y1="366.5" x2="25.4" y2="366.5" stroke="#111" stroke-width="1" stroke-linecap="butt"/>
<line x1="23" y1="358.5" x2="26.8" y2="358.5" stroke="#111" stroke-width="1.15" stroke-linecap="butt"/>
<line x1="23" y1="350.5" x2="25.4" y2="350.5" stroke="#111" stroke-width="1" stroke-linecap="butt"/>
<line x1="23" y1="342.5" x2="26.8" y2="342.5" stroke="#111" stroke-width="1.15" stroke-linecap="butt"/>
<line x1="23" y1="425" x2="23" y2="421.6" stroke="#111" stroke-width="1.1" stroke-linecap="butt"/>
<line x1="44.4" y1="425" x2="44.4" y2="421.6" stroke="#111" stroke-width="1.1" stroke-linecap="butt"/>
<line x1="65.8" y1="425" x2="65.8" y2="421.6" stroke="#111" stroke-width="1.1" stroke-linecap="butt"/>
<line x1="87.2" y1="425" x2="87.2" y2="421.6" stroke="#111" stroke-width="1.1" stroke-linecap="butt"/>
<line x1="108.6" y1="425" x2="108.6" y2="421.6" stroke="#111" stroke-width="1.1" stroke-linecap="butt"/>
<line x1="130" y1="425" x2="130" y2="421.6" stroke="#111" stroke-width="1.1" stroke-linecap="butt"/>
<text font-size="9" font-weight="700" stroke="#000" stroke-width="0.3" text-anchor="end" textLength="4.86" lengthAdjust="spacingAndGlyphs" x="20.5" y="428.24" fill="#000">0</text>
<text font-size="9" font-weight="700" stroke="#000" stroke-width="0.3" text-anchor="end" textLength="12.14" lengthAdjust="spacingAndGlyphs" x="20.5" y="411.64" fill="#000">0.2</text>
<text font-size="9" font-weight="700" stroke="#000" stroke-width="0.3" text-anchor="end" textLength="12.14" lengthAdjust="spacingAndGlyphs" x="20.5" y="395.04" fill="#000">0.4</text>
<text font-size="9" font-weight="700" stroke="#000" stroke-width="0.3" text-anchor="end" textLength="12.14" lengthAdjust="spacingAndGlyphs" x="20.5" y="378.44" fill="#000">0.6</text>
<text font-size="9" font-weight="700" stroke="#000" stroke-width="0.3" text-anchor="end" textLength="12.14" lengthAdjust="spacingAndGlyphs" x="20.5" y="361.84" fill="#000">0.8</text>
<text font-size="9" font-weight="700" stroke="#000" stroke-width="0.3" text-anchor="end" textLength="4.86" lengthAdjust="spacingAndGlyphs" x="20.5" y="345.24" fill="#000">1</text>
<line x1="28.5" y1="414.5" x2="28.5" y2="415.6" stroke="#505050" stroke-width="0.95" stroke-linecap="butt"/>
<line x1="25.6" y1="414.5" x2="31.4" y2="414.5" stroke="#505050" stroke-width="0.95" stroke-linecap="butt"/>
<rect x="24.05" y="415.5" width="8.5" height="9.5" fill="#848484" stroke="#3c3c3c" stroke-width="0.9"/>
<line x1="49.5" y1="369.5" x2="49.5" y2="375" stroke="#505050" stroke-width="0.95" stroke-linecap="butt"/>
<line x1="46.6" y1="369.5" x2="52.4" y2="369.5" stroke="#505050" stroke-width="0.95" stroke-linecap="butt"/>
<rect x="46.15" y="375.5" width="7.6" height="49.5" fill="#848484" stroke="#3c3c3c" stroke-width="0.9"/>
<line x1="60.5" y1="371.5" x2="60.5" y2="375" stroke="#333" stroke-width="0.95" stroke-linecap="butt"/>
<line x1="57.6" y1="371.5" x2="63.4" y2="371.5" stroke="#333" stroke-width="0.95" stroke-linecap="butt"/>
<rect x="56.2" y="375" width="8.8" height="50" fill="#0a0a0a"/>
<line x1="71.5" y1="396.5" x2="71.5" y2="400" stroke="#505050" stroke-width="0.95" stroke-linecap="butt"/>
<line x1="68.6" y1="396.5" x2="74.4" y2="396.5" stroke="#505050" stroke-width="0.95" stroke-linecap="butt"/>
<rect x="67.95" y="400.5" width="7.8" height="24.5" fill="#848484" stroke="#3c3c3c" stroke-width="0.9"/>
<line x1="82.5" y1="404.5" x2="82.5" y2="405.7" stroke="#333" stroke-width="0.95" stroke-linecap="butt"/>
<line x1="79.6" y1="404.5" x2="85.4" y2="404.5" stroke="#333" stroke-width="0.95" stroke-linecap="butt"/>
<rect x="78" y="405.7" width="8.7" height="19.3" fill="#0a0a0a"/>
<line x1="93.5" y1="394.5" x2="93.5" y2="397.5" stroke="#505050" stroke-width="0.95" stroke-linecap="butt"/>
<line x1="90.6" y1="394.5" x2="96.4" y2="394.5" stroke="#505050" stroke-width="0.95" stroke-linecap="butt"/>
<rect x="89.65" y="397.5" width="7.4" height="27.5" fill="#848484" stroke="#3c3c3c" stroke-width="0.9"/>
<line x1="103.5" y1="404.5" x2="103.5" y2="406.2" stroke="#333" stroke-width="0.95" stroke-linecap="butt"/>
<line x1="100.6" y1="404.5" x2="106.4" y2="404.5" stroke="#333" stroke-width="0.95" stroke-linecap="butt"/>
<rect x="99.5" y="406.2" width="8.7" height="18.8" fill="#0a0a0a"/>
<line x1="114.5" y1="411.5" x2="114.5" y2="413.2" stroke="#505050" stroke-width="0.95" stroke-linecap="butt"/>
<line x1="111.6" y1="411.5" x2="117.4" y2="411.5" stroke="#505050" stroke-width="0.95" stroke-linecap="butt"/>
<rect x="111.15" y="413.5" width="7.6" height="11.5" fill="#848484" stroke="#3c3c3c" stroke-width="0.9"/>
<line x1="125.5" y1="411.5" x2="125.5" y2="413" stroke="#333" stroke-width="0.95" stroke-linecap="butt"/>
<line x1="122.6" y1="411.5" x2="128.4" y2="411.5" stroke="#333" stroke-width="0.95" stroke-linecap="butt"/>
<rect x="121.2" y="413" width="8.8" height="12" fill="#0a0a0a"/>
<path d="M57.5 355.7 V352.7 Q57.5 351.5 58.7 351.5 H119.3 Q120.5 351.5 120.5 352.7 V355.7" fill="none" stroke="#000" stroke-width="1.15"/>
<line x1="50" y1="355.5" x2="63.7" y2="355.5" stroke="#000" stroke-width="1.15" stroke-linecap="butt"/>
<line x1="112.5" y1="355.5" x2="126.2" y2="355.5" stroke="#000" stroke-width="1.15" stroke-linecap="butt"/>
<circle cx="82.8" cy="349.4" r="1.4" fill="#000"/>
<path d="M82.8 349.4L82.8 347.7M82.8 349.4L84.18 348.87M82.8 349.4L83.65 350.78M82.8 349.4L81.95 350.78M82.8 349.4L81.42 348.87" stroke="#000" stroke-width="0.95" fill="none" stroke-linecap="round"/>
<circle cx="88.1" cy="349.4" r="1.4" fill="#000"/>
<path d="M88.1 349.4L88.1 347.7M88.1 349.4L89.48 348.87M88.1 349.4L88.95 350.78M88.1 349.4L87.25 350.78M88.1 349.4L86.72 348.87" stroke="#000" stroke-width="0.95" fill="none" stroke-linecap="round"/>
<path d="M57.5 366.4 V364.7 Q57.5 363.5 58.7 363.5 H86.3 Q87.5 363.5 87.5 364.7 V366.9" fill="none" stroke="#000" stroke-width="1.15"/>
<line x1="50" y1="366.5" x2="63.7" y2="366.5" stroke="#000" stroke-width="1.15" stroke-linecap="butt"/>
<line x1="76.2" y1="366.5" x2="98.7" y2="366.5" stroke="#000" stroke-width="1.15" stroke-linecap="butt"/>
<circle cx="72.75" cy="359.7" r="1.4" fill="#000"/>
<path d="M72.75 359.7L72.75 358M72.75 359.7L74.13 359.17M72.75 359.7L73.6 361.08M72.75 359.7L71.9 361.08M72.75 359.7L71.37 359.17" stroke="#000" stroke-width="0.95" fill="none" stroke-linecap="round"/>
<path d="M91.5 391.4 V389.7 Q91.5 388.5 92.7 388.5 H121.3 Q122.5 388.5 122.5 389.7 V391.4" fill="none" stroke="#000" stroke-width="1.15"/>
<line x1="72" y1="391.5" x2="102.5" y2="391.5" stroke="#000" stroke-width="1.15" stroke-linecap="butt"/>
<line x1="115" y1="391.5" x2="128.7" y2="391.5" stroke="#000" stroke-width="1.15" stroke-linecap="butt"/>
<circle cx="105.45" cy="384.7" r="1.4" fill="#000"/>
<path d="M105.45 384.7L105.45 383M105.45 384.7L106.83 384.17M105.45 384.7L106.3 386.08M105.45 384.7L104.6 386.08M105.45 384.7L104.07 384.17" stroke="#000" stroke-width="0.95" fill="none" stroke-linecap="round"/>
<text font-size="9.84" font-weight="700" stroke="#000" stroke-width="0.3" textLength="38.1" lengthAdjust="spacingAndGlyphs" transform="translate(27.26 427.2) rotate(90)" fill="#000">(-)Control</text>
<text font-size="9.84" font-weight="700" stroke="#000" stroke-width="0.3" textLength="38.3" lengthAdjust="spacingAndGlyphs" transform="translate(53.06 427.6) rotate(90)" fill="#000">Si-Control</text>
<text font-size="9.84" font-weight="700" stroke="#000" stroke-width="0.3" textLength="32.7" lengthAdjust="spacingAndGlyphs" transform="translate(73.86 427.6) rotate(90)" fill="#000">Si-RAGE</text>
<text font-size="9.84" font-weight="700" stroke="#000" stroke-width="0.3" textLength="26" lengthAdjust="spacingAndGlyphs" transform="translate(96.86 427.6) rotate(90)" fill="#000">Si-P2Y</text>
<text font-size="4.92" font-weight="700" stroke="#000" stroke-width="0.22" transform="translate(95.18 453.9) rotate(90)" fill="#000">1</text>
<text font-size="7" font-weight="700" stroke="#000" stroke-width="0.22" textLength="39.2" lengthAdjust="spacingAndGlyphs" transform="translate(117.38 427.6) rotate(90)" fill="#000">Si-RAGE+P2Y</text>
<text font-size="3.5" font-weight="700" stroke="#000" stroke-width="0.22" transform="translate(116.19 467.1) rotate(90)" fill="#000">1</text>
<line x1="51.2" y1="468.9" x2="122.5" y2="468.9" stroke="#000" stroke-width="1.35" stroke-linecap="butt"/>
<text font-size="7.8" font-weight="700" stroke="#000" stroke-width="0.3" textLength="108.2" lengthAdjust="spacingAndGlyphs" x="20.5" y="476.61" fill="#000">HMGB1(10 nM)+PolyP(2.5 µM)</text>
<text font-size="8.4" font-weight="700" stroke="#000" stroke-width="0.3" textLength="51" lengthAdjust="spacingAndGlyphs" transform="translate(6.52 403.2) rotate(-90)" fill="#000">ELISA (OD 405)</text>
<text font-size="11.3" stroke="#000" stroke-width="0.5" x="1.3" y="337.5" fill="#000">I</text>
</g>
<g>
<line x1="164.2" y1="346.2" x2="164.2" y2="422.4" stroke="#111" stroke-width="1.3" stroke-linecap="butt"/>
<line x1="163.7" y1="421.9" x2="261.5" y2="421.9" stroke="#111" stroke-width="1.3" stroke-linecap="butt"/>
<line x1="164.2" y1="414.5" x2="166.6" y2="414.5" stroke="#111" stroke-width="1" stroke-linecap="butt"/>
<line x1="164.2" y1="406.5" x2="168" y2="406.5" stroke="#111" stroke-width="1.15" stroke-linecap="butt"/>
<line x1="164.2" y1="399.5" x2="166.6" y2="399.5" stroke="#111" stroke-width="1" stroke-linecap="butt"/>
<line x1="164.2" y1="391.5" x2="168" y2="391.5" stroke="#111" stroke-width="1.15" stroke-linecap="butt"/>
<line x1="164.2" y1="384.5" x2="166.6" y2="384.5" stroke="#111" stroke-width="1" stroke-linecap="butt"/>
<line x1="164.2" y1="376.5" x2="168" y2="376.5" stroke="#111" stroke-width="1.15" stroke-linecap="butt"/>
<line x1="164.2" y1="369.5" x2="166.6" y2="369.5" stroke="#111" stroke-width="1" stroke-linecap="butt"/>
<line x1="164.2" y1="361.5" x2="168" y2="361.5" stroke="#111" stroke-width="1.15" stroke-linecap="butt"/>
<line x1="164.2" y1="354.5" x2="166.6" y2="354.5" stroke="#111" stroke-width="1" stroke-linecap="butt"/>
<line x1="164.2" y1="346.5" x2="168" y2="346.5" stroke="#111" stroke-width="1.15" stroke-linecap="butt"/>
<line x1="164.2" y1="421.9" x2="164.2" y2="418.5" stroke="#111" stroke-width="1.1" stroke-linecap="butt"/>
<line x1="183.56" y1="421.9" x2="183.56" y2="418.5" stroke="#111" stroke-width="1.1" stroke-linecap="butt"/>
<line x1="202.92" y1="421.9" x2="202.92" y2="418.5" stroke="#111" stroke-width="1.1" stroke-linecap="butt"/>
<line x1="222.28" y1="421.9" x2="222.28" y2="418.5" stroke="#111" stroke-width="1.1" stroke-linecap="butt"/>
<line x1="241.64" y1="421.9" x2="241.64" y2="418.5" stroke="#111" stroke-width="1.1" stroke-linecap="butt"/>
<line x1="261" y1="421.9" x2="261" y2="418.5" stroke="#111" stroke-width="1.1" stroke-linecap="butt"/>
<text font-size="8.4" font-weight="700" stroke="#000" stroke-width="0.3" text-anchor="end" textLength="4.06" lengthAdjust="spacingAndGlyphs" x="159.6" y="424.42" fill="#000">0</text>
<text font-size="8.4" font-weight="700" stroke="#000" stroke-width="0.3" text-anchor="end" textLength="10.16" lengthAdjust="spacingAndGlyphs" x="159.6" y="409.38" fill="#000">0.2</text>
<text font-size="8.4" font-weight="700" stroke="#000" stroke-width="0.3" text-anchor="end" textLength="10.16" lengthAdjust="spacingAndGlyphs" x="159.6" y="394.34" fill="#000">0.4</text>
<text font-size="8.4" font-weight="700" stroke="#000" stroke-width="0.3" text-anchor="end" textLength="10.16" lengthAdjust="spacingAndGlyphs" x="159.6" y="379.3" fill="#000">0.6</text>
<text font-size="8.4" font-weight="700" stroke="#000" stroke-width="0.3" text-anchor="end" textLength="10.16" lengthAdjust="spacingAndGlyphs" x="159.6" y="364.26" fill="#000">0.8</text>
<text font-size="8.4" font-weight="700" stroke="#000" stroke-width="0.3" text-anchor="end" textLength="4.06" lengthAdjust="spacingAndGlyphs" x="159.6" y="349.22" fill="#000">1</text>
<line x1="168.5" y1="412.5" x2="168.5" y2="413.3" stroke="#505050" stroke-width="0.95" stroke-linecap="butt"/>
<line x1="165.6" y1="412.5" x2="171.4" y2="412.5" stroke="#505050" stroke-width="0.95" stroke-linecap="butt"/>
<rect x="165.45" y="413.5" width="7.1" height="8.4" fill="#848484" stroke="#3c3c3c" stroke-width="0.9"/>
<line x1="188.5" y1="366.5" x2="188.5" y2="373.2" stroke="#505050" stroke-width="0.95" stroke-linecap="butt"/>
<line x1="185.6" y1="366.5" x2="191.4" y2="366.5" stroke="#505050" stroke-width="0.95" stroke-linecap="butt"/>
<rect x="185.45" y="373.5" width="6.6" height="48.4" fill="#848484" stroke="#3c3c3c" stroke-width="0.9"/>
<line x1="197.5" y1="376.5" x2="197.5" y2="380" stroke="#333" stroke-width="0.95" stroke-linecap="butt"/>
<line x1="194.6" y1="376.5" x2="200.4" y2="376.5" stroke="#333" stroke-width="0.95" stroke-linecap="butt"/>
<rect x="194.2" y="380" width="7.5" height="41.9" fill="#0a0a0a"/>
<line x1="207.5" y1="390.5" x2="207.5" y2="393.7" stroke="#505050" stroke-width="0.95" stroke-linecap="butt"/>
<line x1="204.6" y1="390.5" x2="210.4" y2="390.5" stroke="#505050" stroke-width="0.95" stroke-linecap="butt"/>
<rect x="204.65" y="393.5" width="6.9" height="28.4" fill="#848484" stroke="#3c3c3c" stroke-width="0.9"/>
<line x1="217.5" y1="401.5" x2="217.5" y2="403.2" stroke="#333" stroke-width="0.95" stroke-linecap="butt"/>
<line x1="214.6" y1="401.5" x2="220.4" y2="401.5" stroke="#333" stroke-width="0.95" stroke-linecap="butt"/>
<rect x="213.7" y="403.2" width="7.5" height="18.7" fill="#0a0a0a"/>
<line x1="227.5" y1="391.5" x2="227.5" y2="395" stroke="#505050" stroke-width="0.95" stroke-linecap="butt"/>
<line x1="224.6" y1="391.5" x2="230.4" y2="391.5" stroke="#505050" stroke-width="0.95" stroke-linecap="butt"/>
<rect x="224.15" y="395.5" width="6.6" height="26.4" fill="#848484" stroke="#3c3c3c" stroke-width="0.9"/>
<line x1="236.5" y1="402.5" x2="236.5" y2="404.2" stroke="#333" stroke-width="0.95" stroke-linecap="butt"/>
<line x1="233.6" y1="402.5" x2="239.4" y2="402.5" stroke="#333" stroke-width="0.95" stroke-linecap="butt"/>
<rect x="233" y="404.2" width="7.5" height="17.7" fill="#0a0a0a"/>
<line x1="246.5" y1="406.5" x2="246.5" y2="408" stroke="#505050" stroke-width="0.95" stroke-linecap="butt"/>
<line x1="243.6" y1="406.5" x2="249.4" y2="406.5" stroke="#505050" stroke-width="0.95" stroke-linecap="butt"/>
<rect x="243.45" y="408.5" width="6.6" height="13.4" fill="#848484" stroke="#3c3c3c" stroke-width="0.9"/>
<line x1="256.5" y1="409.5" x2="256.5" y2="410" stroke="#333" stroke-width="0.95" stroke-linecap="butt"/>
<line x1="253.6" y1="409.5" x2="259.4" y2="409.5" stroke="#333" stroke-width="0.95" stroke-linecap="butt"/>
<rect x="252.5" y="410" width="7.5" height="11.9" fill="#0a0a0a"/>
<path d="M193.5 355.9 V352.7 Q193.5 351.5 194.7 351.5 H246.3 Q247.5 351.5 247.5 352.7 V355.9" fill="none" stroke="#000" stroke-width="1.15"/>
<line x1="187" y1="355.5" x2="200.7" y2="355.5" stroke="#000" stroke-width="1.15" stroke-linecap="butt"/>
<line x1="243.7" y1="355.5" x2="256.2" y2="355.5" stroke="#000" stroke-width="1.15" stroke-linecap="butt"/>
<circle cx="216.6" cy="348.2" r="1.4" fill="#000"/>
<path d="M216.6 348.2L216.6 346.5M216.6 348.2L217.98 347.67M216.6 348.2L217.45 349.58M216.6 348.2L215.75 349.58M216.6 348.2L215.22 347.67" stroke="#000" stroke-width="0.95" fill="none" stroke-linecap="round"/>
<circle cx="221.9" cy="348.2" r="1.4" fill="#000"/>
<path d="M221.9 348.2L221.9 346.5M221.9 348.2L223.28 347.67M221.9 348.2L222.75 349.58M221.9 348.2L221.05 349.58M221.9 348.2L220.52 347.67" stroke="#000" stroke-width="0.95" fill="none" stroke-linecap="round"/>
<path d="M189.5 365.7 V363.7 Q189.5 362.5 190.7 362.5 H219.3 Q220.5 362.5 220.5 363.7 V365.7" fill="none" stroke="#000" stroke-width="1.15"/>
<line x1="185.6" y1="365.5" x2="199.7" y2="365.5" stroke="#000" stroke-width="1.15" stroke-linecap="butt"/>
<line x1="208.2" y1="365.5" x2="230.4" y2="365.5" stroke="#000" stroke-width="1.15" stroke-linecap="butt"/>
<circle cx="205.25" cy="358.4" r="1.4" fill="#000"/>
<path d="M205.25 358.4L205.25 356.7M205.25 358.4L206.63 357.87M205.25 358.4L206.1 359.78M205.25 358.4L204.4 359.78M205.25 358.4L203.87 357.87" stroke="#000" stroke-width="0.95" fill="none" stroke-linecap="round"/>
<path d="M217.5 387.2 V384.7 Q217.5 383.5 218.7 383.5 H247.3 Q248.5 383.5 248.5 384.7 V387.2" fill="none" stroke="#000" stroke-width="1.15"/>
<line x1="208" y1="386.5" x2="238.7" y2="386.5" stroke="#000" stroke-width="1.15" stroke-linecap="butt"/>
<line x1="245" y1="386.5" x2="257.5" y2="386.5" stroke="#000" stroke-width="1.15" stroke-linecap="butt"/>
<circle cx="233.45" cy="380.2" r="1.4" fill="#000"/>
<path d="M233.45 380.2L233.45 378.5M233.45 380.2L234.83 379.67M233.45 380.2L234.3 381.58M233.45 380.2L232.6 381.58M233.45 380.2L232.07 379.67" stroke="#000" stroke-width="0.95" fill="none" stroke-linecap="round"/>
<text font-size="9.84" font-weight="700" stroke="#000" stroke-width="0.3" textLength="37.3" lengthAdjust="spacingAndGlyphs" transform="translate(167.06 422.8) rotate(90)" fill="#000">(-)Control</text>
<text font-size="9.84" font-weight="700" stroke="#000" stroke-width="0.3" textLength="39.4" lengthAdjust="spacingAndGlyphs" transform="translate(189.66 422.8) rotate(90)" fill="#000">Si-Control</text>
<text font-size="9.84" font-weight="700" stroke="#000" stroke-width="0.3" textLength="33.3" lengthAdjust="spacingAndGlyphs" transform="translate(209.36 422.8) rotate(90)" fill="#000">Si-RAGE</text>
<text font-size="9.84" font-weight="700" stroke="#000" stroke-width="0.3" textLength="25.1" lengthAdjust="spacingAndGlyphs" transform="translate(228.86 422.8) rotate(90)" fill="#000">Si-P2Y</text>
<text font-size="4.92" font-weight="700" stroke="#000" stroke-width="0.22" transform="translate(227.18 448.2) rotate(90)" fill="#000">1</text>
<text font-size="6.75" font-weight="700" stroke="#000" stroke-width="0.22" textLength="39.3" lengthAdjust="spacingAndGlyphs" transform="translate(249.77 422) rotate(90)" fill="#000">Si-RAGE+P2Y</text>
<text font-size="3.38" font-weight="700" stroke="#000" stroke-width="0.22" transform="translate(248.62 461.6) rotate(90)" fill="#000">1</text>
<line x1="187.2" y1="464.5" x2="257.8" y2="464.5" stroke="#000" stroke-width="1.35" stroke-linecap="butt"/>
<text font-size="7.6" font-weight="700" stroke="#000" stroke-width="0.3" textLength="103.3" lengthAdjust="spacingAndGlyphs" x="171.2" y="473.14" fill="#000">H4 (0.44 µM)+ PolyP (2.5 µM)</text>
<text font-size="11.3" stroke="#000" stroke-width="0.5" x="150.7" y="337.2" fill="#000">J</text>
</g>
</svg></body></html>
